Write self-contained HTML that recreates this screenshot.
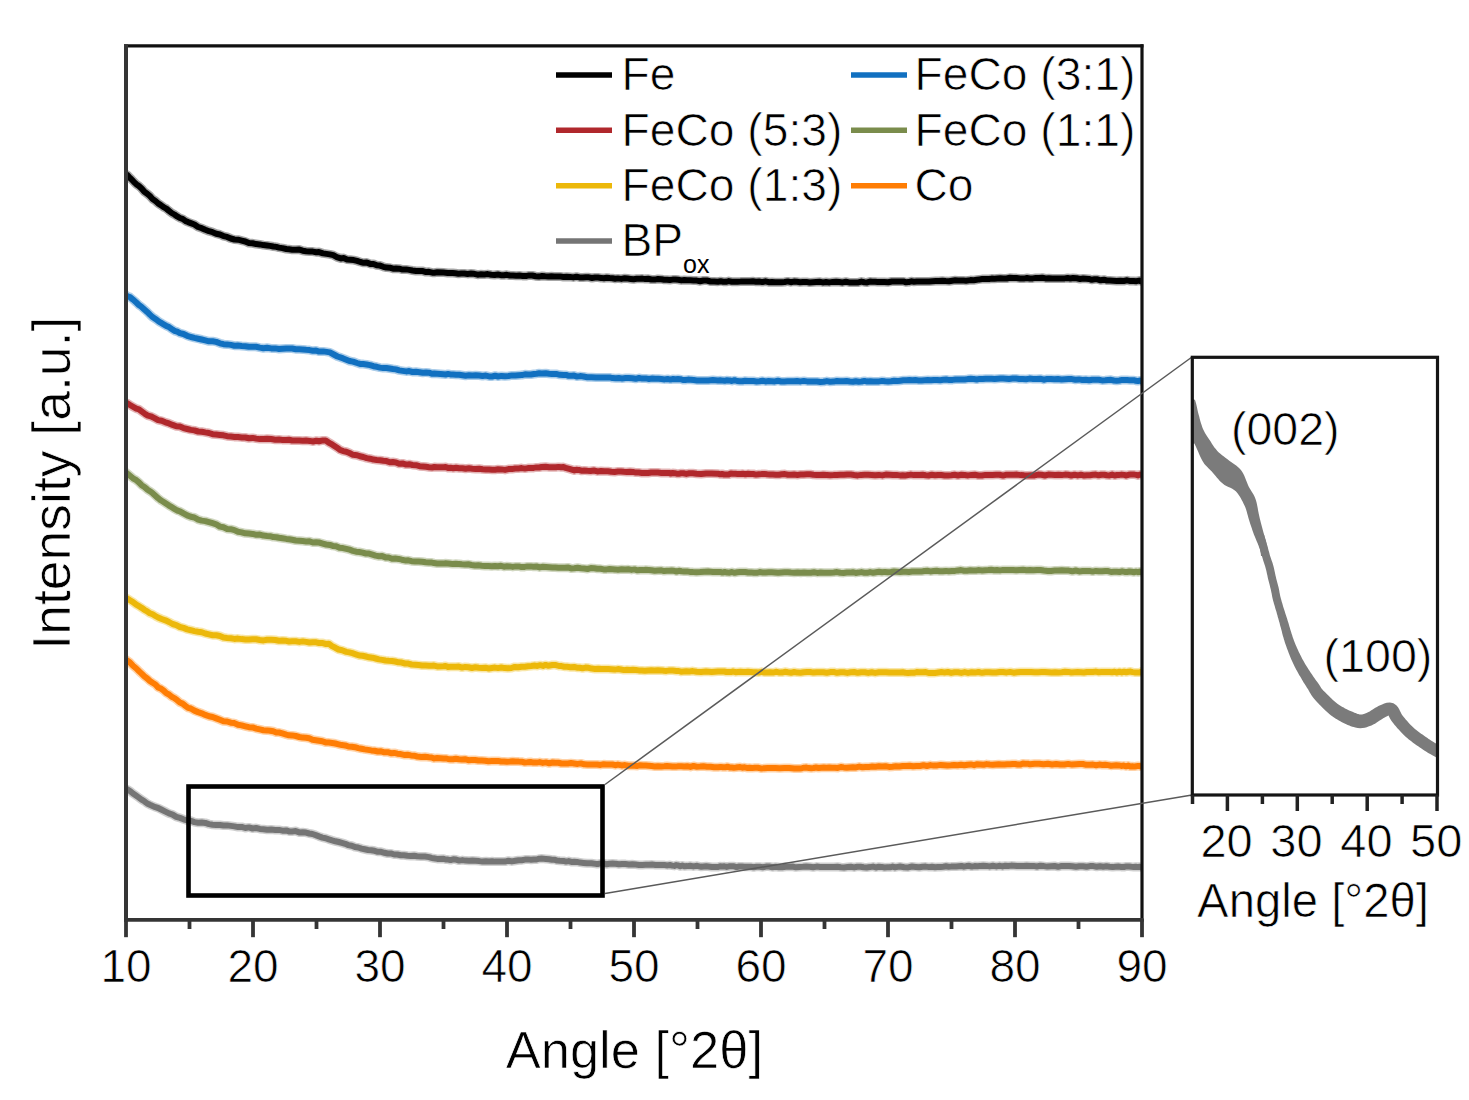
<!DOCTYPE html>
<html><head><meta charset="utf-8"><style>
html,body{margin:0;padding:0;background:#fff;}
body{width:1469px;height:1100px;overflow:hidden;font-family:"Liberation Sans",sans-serif;}
svg{display:block;}
</style></head><body>
<svg width="1469" height="1100" viewBox="0 0 1469 1100">
<rect width="1469" height="1100" fill="#fff"/>
<defs><clipPath id="pc"><rect x="128" y="46" width="1013" height="872"/></clipPath><clipPath id="ic"><rect x="1193" y="358" width="243" height="434"/></clipPath></defs>
<g clip-path="url(#pc)" fill="none" stroke-linejoin="round" stroke-linecap="butt">
<path d="M125.0,173.8 L127.5,175.2 L129.2,177.2 L131.4,179.2 L133.8,181.8 L136.3,184.2 L138.9,186.0 L141.6,188.5 L144.4,191.8 L147.2,193.7 L149.9,196.0 L152.6,199.1 L155.4,200.9 L158.1,203.4 L160.8,205.1 L163.6,207.2 L166.3,208.6 L169.0,210.9 L171.7,213.0 L174.4,214.5 L177.2,216.4 L179.9,218.0 L182.6,218.9 L185.4,220.9 L188.1,222.1 L190.8,223.1 L194.4,224.5 L198.1,227.0 L201.7,228.2 L205.3,229.8 L209.0,231.2 L212.6,232.2 L216.2,233.7 L219.9,234.5 L223.5,236.1 L227.1,236.9 L230.8,238.5 L234.4,239.5 L238.0,239.7 L241.7,240.6 L245.3,241.5 L248.9,243.1 L252.6,243.3 L256.2,244.1 L259.8,244.4 L263.4,245.1 L267.1,245.5 L270.1,245.9 L273.3,246.5 L276.3,246.9 L279.0,247.6 L282.4,248.1 L286.3,249.0 L289.0,249.3 L292.2,249.7 L295.7,249.7 L299.3,249.6 L302.7,250.7 L306.1,251.2 L309.5,251.5 L312.9,251.6 L316.1,252.2 L319.0,252.1 L323.0,253.4 L326.5,253.9 L329.9,254.4 L333.3,255.2 L336.8,257.1 L340.8,258.4 L343.7,258.1 L346.9,259.5 L350.3,259.7 L353.7,260.1 L357.1,260.9 L360.4,262.0 L363.7,262.8 L366.9,262.6 L370.2,263.9 L373.5,263.9 L376.8,265.3 L380.0,265.6 L383.3,266.8 L386.5,267.6 L389.8,267.7 L393.0,268.7 L396.0,268.5 L399.2,268.7 L402.5,269.6 L406.2,269.4 L409.2,269.9 L412.5,270.5 L416.0,271.0 L419.5,270.9 L422.9,271.1 L426.1,272.1 L429.0,271.8 L432.3,272.7 L434.3,272.7 L437.3,272.2 L443.6,272.6 L445.6,272.7 L447.8,272.9 L450.2,273.0 L452.8,273.1 L455.5,273.3 L458.4,273.7 L461.4,273.4 L464.4,273.5 L467.6,273.9 L470.9,273.6 L474.2,273.8 L477.6,274.7 L481.0,274.3 L484.4,274.5 L487.8,274.1 L491.3,274.7 L494.6,275.0 L498.0,274.5 L500.9,275.2 L503.8,275.3 L506.9,274.8 L509.9,275.5 L513.0,275.4 L516.2,275.7 L519.4,275.5 L522.6,275.9 L525.8,276.1 L529.1,275.4 L532.3,275.5 L535.6,276.2 L538.8,276.6 L542.0,276.0 L545.2,276.3 L548.3,276.5 L551.5,276.3 L554.5,276.4 L557.6,276.4 L560.5,276.6 L563.4,276.9 L566.7,276.7 L570.0,276.9 L573.2,277.4 L576.5,276.7 L579.6,277.4 L582.8,277.6 L585.9,277.3 L589.0,277.3 L592.0,278.0 L595.0,277.5 L598.0,277.6 L601.0,277.9 L603.9,278.3 L606.7,277.8 L609.6,278.1 L612.4,278.2 L615.2,278.8 L617.9,278.4 L621.3,278.9 L624.6,278.3 L627.7,278.6 L630.7,278.9 L633.7,279.2 L636.6,278.8 L639.5,278.7 L642.4,278.6 L645.3,279.1 L648.3,278.8 L651.4,279.5 L654.6,279.6 L657.9,279.0 L661.4,279.2 L664.2,279.8 L667.0,279.7 L669.8,280.0 L672.6,279.6 L675.5,279.5 L678.4,279.8 L681.3,280.4 L684.3,280.0 L687.3,280.2 L690.4,280.3 L693.5,280.5 L696.8,280.6 L700.1,281.2 L703.5,280.5 L706.9,280.5 L710.5,281.5 L714.2,281.5 L718.0,281.7 L720.6,281.2 L723.3,281.7 L726.0,281.8 L728.8,281.1 L731.7,281.7 L734.6,281.8 L737.5,281.7 L740.5,281.6 L743.5,281.4 L746.6,281.4 L749.7,281.4 L752.8,281.2 L756.0,281.8 L759.1,281.5 L762.3,282.1 L765.5,281.3 L768.7,282.2 L771.9,282.0 L775.1,282.3 L778.3,282.3 L781.4,282.3 L784.6,282.0 L787.7,281.4 L790.8,282.2 L793.9,281.6 L797.0,281.8 L800.0,282.2 L803.1,282.0 L806.3,281.9 L809.6,282.5 L812.8,282.2 L816.1,281.9 L819.4,281.8 L822.7,282.4 L826.1,282.0 L829.4,282.4 L832.7,281.9 L836.1,281.8 L839.4,282.1 L842.6,282.4 L845.9,281.7 L849.1,282.4 L852.2,282.5 L855.3,282.4 L858.4,282.4 L861.4,281.6 L864.3,282.2 L867.2,282.4 L869.9,281.6 L872.6,281.8 L875.2,281.8 L877.6,282.0 L880.0,281.9 L884.4,282.0 L888.3,282.2 L891.8,281.5 L895.1,281.5 L898.0,281.5 L900.8,281.5 L903.4,281.4 L906.0,282.3 L908.6,282.1 L911.2,281.3 L913.9,281.7 L916.8,281.5 L920.0,281.4 L922.9,281.4 L926.0,281.6 L929.2,281.5 L932.4,281.2 L935.7,281.0 L939.1,281.0 L942.4,280.7 L945.7,281.1 L949.0,281.2 L952.1,280.7 L955.2,280.3 L958.2,280.4 L961.0,280.5 L963.6,280.6 L966.0,280.7 L970.4,280.1 L973.8,280.2 L976.7,279.8 L979.3,279.4 L982.0,279.1 L985.1,279.0 L989.0,279.0 L991.6,278.6 L994.4,278.8 L997.3,278.5 L1000.3,278.2 L1003.4,278.4 L1006.6,278.5 L1009.8,277.8 L1013.2,278.1 L1016.6,278.1 L1020.0,278.5 L1023.5,278.6 L1027.0,278.0 L1029.9,278.5 L1032.8,278.4 L1035.9,277.9 L1039.1,278.1 L1042.3,277.7 L1045.5,278.4 L1048.8,278.3 L1052.1,278.6 L1055.3,278.5 L1058.5,278.4 L1061.6,278.5 L1064.6,278.4 L1067.6,278.0 L1070.4,278.5 L1073.0,278.0 L1076.7,278.3 L1080.0,279.0 L1083.2,278.5 L1086.1,278.7 L1088.9,278.9 L1091.7,279.8 L1094.6,279.3 L1097.5,279.3 L1100.6,280.3 L1104.0,279.7 L1106.8,280.5 L1109.9,280.5 L1113.3,280.7 L1116.7,280.9 L1120.2,280.7 L1123.7,281.0 L1127.2,280.3 L1130.5,281.1 L1133.6,280.9 L1136.5,281.2 L1139.1,280.6 L1141.3,281.3 L1143.0,281.1" stroke="#000000" stroke-width="9" stroke-opacity="0.35"/>
<path d="M125.0,173.8 L127.5,175.2 L129.2,177.2 L131.4,179.2 L133.8,181.8 L136.3,184.2 L138.9,186.0 L141.6,188.5 L144.4,191.8 L147.2,193.7 L149.9,196.0 L152.6,199.1 L155.4,200.9 L158.1,203.4 L160.8,205.1 L163.6,207.2 L166.3,208.6 L169.0,210.9 L171.7,213.0 L174.4,214.5 L177.2,216.4 L179.9,218.0 L182.6,218.9 L185.4,220.9 L188.1,222.1 L190.8,223.1 L194.4,224.5 L198.1,227.0 L201.7,228.2 L205.3,229.8 L209.0,231.2 L212.6,232.2 L216.2,233.7 L219.9,234.5 L223.5,236.1 L227.1,236.9 L230.8,238.5 L234.4,239.5 L238.0,239.7 L241.7,240.6 L245.3,241.5 L248.9,243.1 L252.6,243.3 L256.2,244.1 L259.8,244.4 L263.4,245.1 L267.1,245.5 L270.1,245.9 L273.3,246.5 L276.3,246.9 L279.0,247.6 L282.4,248.1 L286.3,249.0 L289.0,249.3 L292.2,249.7 L295.7,249.7 L299.3,249.6 L302.7,250.7 L306.1,251.2 L309.5,251.5 L312.9,251.6 L316.1,252.2 L319.0,252.1 L323.0,253.4 L326.5,253.9 L329.9,254.4 L333.3,255.2 L336.8,257.1 L340.8,258.4 L343.7,258.1 L346.9,259.5 L350.3,259.7 L353.7,260.1 L357.1,260.9 L360.4,262.0 L363.7,262.8 L366.9,262.6 L370.2,263.9 L373.5,263.9 L376.8,265.3 L380.0,265.6 L383.3,266.8 L386.5,267.6 L389.8,267.7 L393.0,268.7 L396.0,268.5 L399.2,268.7 L402.5,269.6 L406.2,269.4 L409.2,269.9 L412.5,270.5 L416.0,271.0 L419.5,270.9 L422.9,271.1 L426.1,272.1 L429.0,271.8 L432.3,272.7 L434.3,272.7 L437.3,272.2 L443.6,272.6 L445.6,272.7 L447.8,272.9 L450.2,273.0 L452.8,273.1 L455.5,273.3 L458.4,273.7 L461.4,273.4 L464.4,273.5 L467.6,273.9 L470.9,273.6 L474.2,273.8 L477.6,274.7 L481.0,274.3 L484.4,274.5 L487.8,274.1 L491.3,274.7 L494.6,275.0 L498.0,274.5 L500.9,275.2 L503.8,275.3 L506.9,274.8 L509.9,275.5 L513.0,275.4 L516.2,275.7 L519.4,275.5 L522.6,275.9 L525.8,276.1 L529.1,275.4 L532.3,275.5 L535.6,276.2 L538.8,276.6 L542.0,276.0 L545.2,276.3 L548.3,276.5 L551.5,276.3 L554.5,276.4 L557.6,276.4 L560.5,276.6 L563.4,276.9 L566.7,276.7 L570.0,276.9 L573.2,277.4 L576.5,276.7 L579.6,277.4 L582.8,277.6 L585.9,277.3 L589.0,277.3 L592.0,278.0 L595.0,277.5 L598.0,277.6 L601.0,277.9 L603.9,278.3 L606.7,277.8 L609.6,278.1 L612.4,278.2 L615.2,278.8 L617.9,278.4 L621.3,278.9 L624.6,278.3 L627.7,278.6 L630.7,278.9 L633.7,279.2 L636.6,278.8 L639.5,278.7 L642.4,278.6 L645.3,279.1 L648.3,278.8 L651.4,279.5 L654.6,279.6 L657.9,279.0 L661.4,279.2 L664.2,279.8 L667.0,279.7 L669.8,280.0 L672.6,279.6 L675.5,279.5 L678.4,279.8 L681.3,280.4 L684.3,280.0 L687.3,280.2 L690.4,280.3 L693.5,280.5 L696.8,280.6 L700.1,281.2 L703.5,280.5 L706.9,280.5 L710.5,281.5 L714.2,281.5 L718.0,281.7 L720.6,281.2 L723.3,281.7 L726.0,281.8 L728.8,281.1 L731.7,281.7 L734.6,281.8 L737.5,281.7 L740.5,281.6 L743.5,281.4 L746.6,281.4 L749.7,281.4 L752.8,281.2 L756.0,281.8 L759.1,281.5 L762.3,282.1 L765.5,281.3 L768.7,282.2 L771.9,282.0 L775.1,282.3 L778.3,282.3 L781.4,282.3 L784.6,282.0 L787.7,281.4 L790.8,282.2 L793.9,281.6 L797.0,281.8 L800.0,282.2 L803.1,282.0 L806.3,281.9 L809.6,282.5 L812.8,282.2 L816.1,281.9 L819.4,281.8 L822.7,282.4 L826.1,282.0 L829.4,282.4 L832.7,281.9 L836.1,281.8 L839.4,282.1 L842.6,282.4 L845.9,281.7 L849.1,282.4 L852.2,282.5 L855.3,282.4 L858.4,282.4 L861.4,281.6 L864.3,282.2 L867.2,282.4 L869.9,281.6 L872.6,281.8 L875.2,281.8 L877.6,282.0 L880.0,281.9 L884.4,282.0 L888.3,282.2 L891.8,281.5 L895.1,281.5 L898.0,281.5 L900.8,281.5 L903.4,281.4 L906.0,282.3 L908.6,282.1 L911.2,281.3 L913.9,281.7 L916.8,281.5 L920.0,281.4 L922.9,281.4 L926.0,281.6 L929.2,281.5 L932.4,281.2 L935.7,281.0 L939.1,281.0 L942.4,280.7 L945.7,281.1 L949.0,281.2 L952.1,280.7 L955.2,280.3 L958.2,280.4 L961.0,280.5 L963.6,280.6 L966.0,280.7 L970.4,280.1 L973.8,280.2 L976.7,279.8 L979.3,279.4 L982.0,279.1 L985.1,279.0 L989.0,279.0 L991.6,278.6 L994.4,278.8 L997.3,278.5 L1000.3,278.2 L1003.4,278.4 L1006.6,278.5 L1009.8,277.8 L1013.2,278.1 L1016.6,278.1 L1020.0,278.5 L1023.5,278.6 L1027.0,278.0 L1029.9,278.5 L1032.8,278.4 L1035.9,277.9 L1039.1,278.1 L1042.3,277.7 L1045.5,278.4 L1048.8,278.3 L1052.1,278.6 L1055.3,278.5 L1058.5,278.4 L1061.6,278.5 L1064.6,278.4 L1067.6,278.0 L1070.4,278.5 L1073.0,278.0 L1076.7,278.3 L1080.0,279.0 L1083.2,278.5 L1086.1,278.7 L1088.9,278.9 L1091.7,279.8 L1094.6,279.3 L1097.5,279.3 L1100.6,280.3 L1104.0,279.7 L1106.8,280.5 L1109.9,280.5 L1113.3,280.7 L1116.7,280.9 L1120.2,280.7 L1123.7,281.0 L1127.2,280.3 L1130.5,281.1 L1133.6,280.9 L1136.5,281.2 L1139.1,280.6 L1141.3,281.3 L1143.0,281.1" stroke="#000000" stroke-width="6"/>
<path d="M125.0,294.4 L127.6,296.3 L130.0,297.1 L133.0,299.6 L136.3,302.5 L138.9,305.0 L141.6,306.9 L144.4,309.4 L147.2,311.9 L149.9,314.6 L152.6,317.1 L155.4,318.9 L158.1,320.9 L160.8,322.7 L163.6,324.3 L166.3,325.9 L169.0,327.1 L171.7,329.0 L174.4,330.8 L177.2,331.6 L179.9,333.1 L183.5,334.0 L187.2,335.8 L190.8,337.0 L194.4,337.9 L198.1,338.7 L201.7,339.5 L205.3,340.4 L209.0,341.3 L212.6,341.2 L216.2,341.9 L219.9,343.3 L223.5,344.2 L227.1,344.4 L230.8,344.9 L234.4,345.7 L238.0,345.6 L241.7,346.0 L245.3,346.2 L248.9,346.8 L252.6,346.7 L256.2,346.8 L259.8,347.6 L263.4,348.2 L267.1,347.8 L271.2,348.4 L275.3,348.4 L279.0,349.0 L282.4,348.7 L286.3,348.4 L289.0,348.5 L292.2,348.5 L295.7,349.2 L299.3,349.3 L302.7,349.4 L306.1,349.8 L309.5,350.1 L312.9,350.8 L316.1,350.5 L319.0,351.6 L323.2,351.4 L326.7,351.9 L329.9,352.4 L333.8,354.5 L337.5,356.5 L340.3,357.4 L343.2,358.4 L346.3,359.7 L349.5,361.0 L353.0,361.6 L357.1,363.0 L360.0,363.9 L363.3,364.1 L366.7,364.5 L370.1,365.1 L373.5,366.2 L376.8,366.8 L380.0,367.6 L383.3,368.1 L386.5,368.0 L389.8,368.5 L393.0,369.0 L396.0,369.4 L399.2,370.4 L402.5,370.9 L406.2,371.4 L409.2,371.1 L412.5,372.0 L416.0,371.8 L419.5,372.2 L422.9,372.8 L426.1,372.4 L429.0,372.7 L432.3,373.8 L434.3,373.5 L437.3,373.7 L443.6,374.3 L445.7,374.5 L448.0,373.9 L450.5,374.4 L453.2,374.6 L456.1,374.8 L459.2,374.7 L462.4,375.2 L465.6,375.7 L469.0,375.3 L472.4,375.6 L475.8,375.3 L479.2,375.5 L482.6,376.0 L485.9,375.6 L489.1,376.4 L492.2,376.5 L495.2,375.7 L498.0,376.5 L501.5,375.9 L505.0,376.2 L508.5,376.0 L511.9,375.4 L515.3,375.5 L518.6,375.2 L521.8,375.1 L525.0,374.3 L528.1,374.6 L531.0,374.5 L533.9,374.0 L536.6,373.7 L539.2,373.2 L541.6,373.5 L545.8,373.3 L549.1,373.8 L551.9,374.0 L554.4,374.1 L557.0,374.1 L559.9,374.8 L563.4,375.1 L566.1,374.9 L568.7,375.8 L571.4,375.8 L574.1,375.6 L577.0,376.6 L580.1,376.1 L583.5,376.5 L587.2,377.2 L591.4,377.3 L596.0,377.5 L598.4,377.6 L601.0,377.5 L603.7,377.5 L606.5,377.4 L609.5,377.4 L612.6,378.1 L615.7,378.3 L618.9,378.1 L622.2,378.4 L625.5,378.1 L628.9,378.1 L632.3,378.2 L635.7,378.8 L639.0,378.0 L642.4,378.6 L645.7,378.4 L649.0,379.0 L652.2,378.6 L655.4,378.7 L658.4,378.8 L661.4,379.0 L664.6,379.4 L667.6,379.0 L670.4,379.6 L673.1,379.0 L675.6,379.2 L678.0,379.1 L680.4,379.2 L682.9,380.0 L685.3,380.0 L688.0,379.6 L690.7,379.7 L693.7,380.0 L696.8,380.4 L700.3,380.5 L704.1,380.5 L708.3,380.5 L712.9,380.1 L718.0,380.4 L720.2,380.2 L722.4,380.6 L724.7,380.7 L727.0,380.3 L729.5,380.4 L731.9,381.0 L734.5,380.2 L737.1,381.0 L739.7,381.2 L742.4,381.3 L745.1,380.7 L747.9,380.9 L750.7,381.0 L753.6,381.1 L756.5,381.4 L759.5,381.2 L762.5,380.8 L765.5,381.4 L768.5,381.1 L771.6,381.2 L774.8,381.4 L777.9,380.7 L781.1,381.5 L784.3,381.4 L787.5,381.3 L790.7,381.3 L793.9,381.3 L797.2,381.0 L800.5,381.4 L803.8,380.9 L807.1,381.4 L810.4,381.5 L813.7,381.4 L817.0,381.5 L820.3,381.9 L823.6,381.8 L826.9,381.1 L830.2,381.7 L833.5,381.6 L836.8,381.0 L840.1,381.3 L843.3,381.2 L846.6,381.0 L849.8,381.5 L853.0,381.8 L855.8,381.2 L858.7,381.7 L861.6,381.5 L864.4,380.9 L867.4,381.6 L870.3,381.3 L873.2,381.6 L876.2,381.4 L879.1,381.4 L882.1,380.9 L885.1,381.3 L888.1,381.4 L891.1,381.3 L894.1,380.8 L897.2,381.1 L900.2,380.7 L903.3,380.3 L906.3,380.2 L909.4,380.1 L912.4,380.2 L915.5,380.1 L918.6,380.4 L921.7,380.5 L924.8,380.3 L927.8,380.1 L930.9,380.3 L934.0,379.9 L937.1,379.9 L940.2,380.2 L943.2,379.8 L946.3,379.5 L949.4,380.1 L952.5,379.9 L955.5,379.5 L958.6,379.4 L961.6,379.5 L964.7,379.5 L967.7,379.1 L970.7,378.8 L973.7,379.0 L976.7,379.5 L979.7,378.9 L982.7,379.1 L985.7,378.8 L988.6,378.8 L991.6,378.8 L994.5,379.0 L997.4,378.7 L1000.3,378.5 L1003.1,378.6 L1006.0,378.7 L1009.2,379.0 L1012.5,378.6 L1015.9,378.5 L1019.3,379.0 L1022.7,378.9 L1026.1,379.2 L1029.6,378.6 L1033.1,379.0 L1036.6,379.0 L1040.2,378.7 L1043.7,379.7 L1047.3,378.9 L1050.8,378.9 L1054.4,379.3 L1057.9,379.0 L1061.5,379.5 L1065.0,379.3 L1068.5,379.1 L1072.0,379.1 L1075.5,379.8 L1079.0,379.4 L1082.4,380.0 L1085.7,379.7 L1089.1,380.3 L1092.4,379.7 L1095.6,379.7 L1098.8,379.8 L1102.0,380.4 L1105.1,380.3 L1108.1,380.0 L1111.0,379.8 L1113.9,380.5 L1116.7,380.8 L1119.4,380.5 L1122.1,379.9 L1124.6,380.0 L1127.1,380.1 L1129.5,380.2 L1131.7,380.2 L1133.9,380.2 L1135.9,380.8 L1137.9,381.1 L1139.7,380.5 L1141.4,381.3 L1143.0,380.8" stroke="#1170c0" stroke-width="9" stroke-opacity="0.35"/>
<path d="M125.0,294.4 L127.6,296.3 L130.0,297.1 L133.0,299.6 L136.3,302.5 L138.9,305.0 L141.6,306.9 L144.4,309.4 L147.2,311.9 L149.9,314.6 L152.6,317.1 L155.4,318.9 L158.1,320.9 L160.8,322.7 L163.6,324.3 L166.3,325.9 L169.0,327.1 L171.7,329.0 L174.4,330.8 L177.2,331.6 L179.9,333.1 L183.5,334.0 L187.2,335.8 L190.8,337.0 L194.4,337.9 L198.1,338.7 L201.7,339.5 L205.3,340.4 L209.0,341.3 L212.6,341.2 L216.2,341.9 L219.9,343.3 L223.5,344.2 L227.1,344.4 L230.8,344.9 L234.4,345.7 L238.0,345.6 L241.7,346.0 L245.3,346.2 L248.9,346.8 L252.6,346.7 L256.2,346.8 L259.8,347.6 L263.4,348.2 L267.1,347.8 L271.2,348.4 L275.3,348.4 L279.0,349.0 L282.4,348.7 L286.3,348.4 L289.0,348.5 L292.2,348.5 L295.7,349.2 L299.3,349.3 L302.7,349.4 L306.1,349.8 L309.5,350.1 L312.9,350.8 L316.1,350.5 L319.0,351.6 L323.2,351.4 L326.7,351.9 L329.9,352.4 L333.8,354.5 L337.5,356.5 L340.3,357.4 L343.2,358.4 L346.3,359.7 L349.5,361.0 L353.0,361.6 L357.1,363.0 L360.0,363.9 L363.3,364.1 L366.7,364.5 L370.1,365.1 L373.5,366.2 L376.8,366.8 L380.0,367.6 L383.3,368.1 L386.5,368.0 L389.8,368.5 L393.0,369.0 L396.0,369.4 L399.2,370.4 L402.5,370.9 L406.2,371.4 L409.2,371.1 L412.5,372.0 L416.0,371.8 L419.5,372.2 L422.9,372.8 L426.1,372.4 L429.0,372.7 L432.3,373.8 L434.3,373.5 L437.3,373.7 L443.6,374.3 L445.7,374.5 L448.0,373.9 L450.5,374.4 L453.2,374.6 L456.1,374.8 L459.2,374.7 L462.4,375.2 L465.6,375.7 L469.0,375.3 L472.4,375.6 L475.8,375.3 L479.2,375.5 L482.6,376.0 L485.9,375.6 L489.1,376.4 L492.2,376.5 L495.2,375.7 L498.0,376.5 L501.5,375.9 L505.0,376.2 L508.5,376.0 L511.9,375.4 L515.3,375.5 L518.6,375.2 L521.8,375.1 L525.0,374.3 L528.1,374.6 L531.0,374.5 L533.9,374.0 L536.6,373.7 L539.2,373.2 L541.6,373.5 L545.8,373.3 L549.1,373.8 L551.9,374.0 L554.4,374.1 L557.0,374.1 L559.9,374.8 L563.4,375.1 L566.1,374.9 L568.7,375.8 L571.4,375.8 L574.1,375.6 L577.0,376.6 L580.1,376.1 L583.5,376.5 L587.2,377.2 L591.4,377.3 L596.0,377.5 L598.4,377.6 L601.0,377.5 L603.7,377.5 L606.5,377.4 L609.5,377.4 L612.6,378.1 L615.7,378.3 L618.9,378.1 L622.2,378.4 L625.5,378.1 L628.9,378.1 L632.3,378.2 L635.7,378.8 L639.0,378.0 L642.4,378.6 L645.7,378.4 L649.0,379.0 L652.2,378.6 L655.4,378.7 L658.4,378.8 L661.4,379.0 L664.6,379.4 L667.6,379.0 L670.4,379.6 L673.1,379.0 L675.6,379.2 L678.0,379.1 L680.4,379.2 L682.9,380.0 L685.3,380.0 L688.0,379.6 L690.7,379.7 L693.7,380.0 L696.8,380.4 L700.3,380.5 L704.1,380.5 L708.3,380.5 L712.9,380.1 L718.0,380.4 L720.2,380.2 L722.4,380.6 L724.7,380.7 L727.0,380.3 L729.5,380.4 L731.9,381.0 L734.5,380.2 L737.1,381.0 L739.7,381.2 L742.4,381.3 L745.1,380.7 L747.9,380.9 L750.7,381.0 L753.6,381.1 L756.5,381.4 L759.5,381.2 L762.5,380.8 L765.5,381.4 L768.5,381.1 L771.6,381.2 L774.8,381.4 L777.9,380.7 L781.1,381.5 L784.3,381.4 L787.5,381.3 L790.7,381.3 L793.9,381.3 L797.2,381.0 L800.5,381.4 L803.8,380.9 L807.1,381.4 L810.4,381.5 L813.7,381.4 L817.0,381.5 L820.3,381.9 L823.6,381.8 L826.9,381.1 L830.2,381.7 L833.5,381.6 L836.8,381.0 L840.1,381.3 L843.3,381.2 L846.6,381.0 L849.8,381.5 L853.0,381.8 L855.8,381.2 L858.7,381.7 L861.6,381.5 L864.4,380.9 L867.4,381.6 L870.3,381.3 L873.2,381.6 L876.2,381.4 L879.1,381.4 L882.1,380.9 L885.1,381.3 L888.1,381.4 L891.1,381.3 L894.1,380.8 L897.2,381.1 L900.2,380.7 L903.3,380.3 L906.3,380.2 L909.4,380.1 L912.4,380.2 L915.5,380.1 L918.6,380.4 L921.7,380.5 L924.8,380.3 L927.8,380.1 L930.9,380.3 L934.0,379.9 L937.1,379.9 L940.2,380.2 L943.2,379.8 L946.3,379.5 L949.4,380.1 L952.5,379.9 L955.5,379.5 L958.6,379.4 L961.6,379.5 L964.7,379.5 L967.7,379.1 L970.7,378.8 L973.7,379.0 L976.7,379.5 L979.7,378.9 L982.7,379.1 L985.7,378.8 L988.6,378.8 L991.6,378.8 L994.5,379.0 L997.4,378.7 L1000.3,378.5 L1003.1,378.6 L1006.0,378.7 L1009.2,379.0 L1012.5,378.6 L1015.9,378.5 L1019.3,379.0 L1022.7,378.9 L1026.1,379.2 L1029.6,378.6 L1033.1,379.0 L1036.6,379.0 L1040.2,378.7 L1043.7,379.7 L1047.3,378.9 L1050.8,378.9 L1054.4,379.3 L1057.9,379.0 L1061.5,379.5 L1065.0,379.3 L1068.5,379.1 L1072.0,379.1 L1075.5,379.8 L1079.0,379.4 L1082.4,380.0 L1085.7,379.7 L1089.1,380.3 L1092.4,379.7 L1095.6,379.7 L1098.8,379.8 L1102.0,380.4 L1105.1,380.3 L1108.1,380.0 L1111.0,379.8 L1113.9,380.5 L1116.7,380.8 L1119.4,380.5 L1122.1,379.9 L1124.6,380.0 L1127.1,380.1 L1129.5,380.2 L1131.7,380.2 L1133.9,380.2 L1135.9,380.8 L1137.9,381.1 L1139.7,380.5 L1141.4,381.3 L1143.0,380.8" stroke="#1170c0" stroke-width="6"/>
<path d="M125.0,402.2 L127.6,403.4 L130.0,405.0 L133.0,406.8 L136.3,408.7 L138.9,409.4 L141.6,411.4 L144.4,413.4 L147.2,415.3 L150.8,416.3 L154.5,418.1 L158.1,420.1 L161.7,420.8 L165.4,422.3 L169.0,423.4 L172.6,424.9 L176.3,426.3 L179.9,426.6 L183.5,428.1 L187.2,429.0 L190.8,429.9 L194.4,430.4 L198.1,431.5 L201.7,431.7 L205.3,432.4 L209.0,433.0 L212.6,434.2 L216.2,434.5 L219.9,434.9 L223.5,435.3 L227.1,436.2 L230.8,436.5 L234.4,436.9 L238.0,437.0 L241.7,437.4 L245.3,437.5 L248.9,438.3 L252.6,437.9 L256.2,438.6 L259.8,439.1 L263.4,439.1 L267.1,438.7 L271.2,439.0 L275.3,439.7 L279.0,439.5 L282.4,439.9 L286.3,440.1 L289.0,439.8 L292.2,440.5 L295.7,440.6 L299.3,440.5 L302.7,440.7 L306.1,440.5 L309.7,440.9 L313.2,441.5 L316.4,440.7 L319.0,441.2 L323.0,440.4 L325.6,440.4 L328.3,442.3 L331.0,443.8 L334.0,445.8 L337.5,448.1 L340.2,449.9 L343.1,451.1 L346.3,451.7 L349.5,453.0 L353.0,454.8 L357.1,455.2 L360.0,456.3 L363.3,457.0 L366.7,458.1 L370.1,458.7 L373.5,459.6 L376.8,460.0 L380.0,460.2 L383.3,460.7 L386.5,461.1 L389.8,462.3 L393.0,462.1 L396.0,462.4 L399.2,463.8 L402.5,463.4 L406.2,464.6 L409.2,464.2 L412.5,465.0 L416.0,465.2 L419.5,466.2 L422.9,466.4 L426.1,466.8 L429.0,467.2 L432.3,467.5 L434.3,467.0 L437.3,467.3 L443.6,467.3 L445.7,467.1 L448.0,467.9 L450.5,467.8 L453.2,468.2 L456.1,467.7 L459.2,468.2 L462.4,468.3 L465.6,468.8 L469.0,468.3 L472.4,468.7 L475.8,469.0 L479.2,468.7 L482.6,469.3 L485.9,469.6 L489.1,469.4 L492.2,469.7 L495.2,469.7 L498.0,469.3 L501.5,469.4 L505.0,469.9 L508.4,469.1 L511.8,469.1 L515.2,468.5 L518.5,468.4 L521.7,468.1 L524.9,468.6 L527.9,468.1 L530.9,468.0 L533.7,467.9 L536.5,467.4 L539.1,467.5 L541.6,467.0 L545.6,466.8 L549.3,467.3 L552.7,467.2 L555.8,467.3 L558.6,466.9 L561.1,467.3 L563.5,467.1 L565.6,467.9 L568.3,468.6 L569.4,468.9 L574.3,470.4 L576.3,469.8 L578.7,469.9 L581.3,470.7 L584.2,470.4 L587.3,470.8 L590.5,471.0 L593.9,470.5 L597.4,471.4 L600.9,471.0 L604.4,471.3 L607.9,471.3 L611.4,471.8 L614.7,471.9 L617.9,471.6 L621.0,471.5 L624.0,471.8 L627.0,472.0 L630.0,471.7 L632.9,471.9 L635.9,472.6 L638.8,472.6 L641.8,472.9 L644.9,473.0 L648.0,473.0 L651.2,472.5 L654.5,472.4 L657.9,472.6 L661.4,472.9 L664.0,473.0 L666.4,473.1 L668.6,472.9 L670.7,473.5 L672.7,473.0 L674.7,473.2 L676.7,473.7 L678.8,473.7 L681.0,473.3 L683.5,473.3 L686.3,473.9 L689.4,473.2 L692.8,473.3 L696.7,473.8 L701.2,473.9 L706.1,473.5 L711.7,473.5 L718.0,473.7 L720.0,474.3 L722.1,474.0 L724.2,474.5 L726.4,474.4 L728.6,474.6 L730.8,473.6 L733.2,473.8 L735.5,473.7 L737.9,474.1 L740.4,474.0 L742.9,473.8 L745.4,474.3 L748.0,473.8 L750.6,474.1 L753.3,474.0 L756.0,474.6 L758.7,474.2 L761.5,474.1 L764.3,473.9 L767.1,474.3 L770.0,474.5 L772.9,474.6 L775.9,474.8 L778.8,474.8 L781.9,474.2 L784.9,474.1 L788.0,474.8 L791.1,474.8 L794.2,474.6 L797.4,474.9 L800.5,474.6 L803.7,474.4 L807.0,474.3 L810.2,474.2 L813.5,474.8 L816.8,475.1 L820.1,475.1 L823.4,474.7 L826.8,474.9 L830.2,475.2 L833.6,475.1 L837.0,474.9 L840.4,474.7 L843.8,474.8 L847.3,474.5 L850.7,474.5 L854.2,475.0 L857.7,475.4 L861.2,474.9 L864.7,474.8 L868.2,474.8 L871.7,474.9 L875.2,475.2 L878.8,474.9 L882.3,475.4 L885.8,474.6 L889.4,474.8 L892.9,475.0 L896.5,474.9 L900.0,475.4 L902.7,475.3 L905.4,475.4 L908.1,475.1 L910.9,474.6 L913.8,475.1 L916.7,475.1 L919.6,475.0 L922.6,474.8 L925.7,475.3 L928.7,475.5 L931.8,474.7 L935.0,475.2 L938.2,474.9 L941.4,475.1 L944.6,475.5 L947.9,475.5 L951.2,475.2 L954.6,474.8 L957.9,475.5 L961.3,474.8 L964.7,475.0 L968.1,475.4 L971.6,474.9 L975.0,474.8 L978.5,475.5 L982.0,475.5 L985.5,474.9 L989.0,475.0 L992.5,474.9 L996.0,474.7 L999.5,474.8 L1003.1,475.6 L1006.6,474.7 L1010.1,474.8 L1013.6,474.8 L1017.1,474.6 L1020.7,475.1 L1024.2,475.3 L1027.7,475.4 L1031.1,475.2 L1034.6,475.4 L1038.1,474.6 L1041.5,474.8 L1044.9,475.5 L1048.3,474.6 L1051.7,474.8 L1055.1,475.0 L1058.4,474.8 L1061.7,475.1 L1065.0,474.6 L1068.2,474.8 L1071.4,475.5 L1074.6,474.7 L1077.7,475.4 L1080.8,474.7 L1083.9,475.5 L1086.9,475.2 L1089.9,475.2 L1092.9,474.7 L1095.8,474.6 L1098.6,475.3 L1101.4,474.7 L1104.2,474.7 L1106.9,475.3 L1109.5,475.4 L1112.1,474.6 L1114.6,475.5 L1117.1,475.0 L1119.5,474.9 L1121.8,474.6 L1124.1,474.9 L1126.3,475.5 L1128.5,474.8 L1130.6,474.6 L1132.6,474.6 L1134.5,474.6 L1136.4,474.9 L1138.1,475.4 L1139.8,474.6 L1141.5,474.7 L1143.0,475.0" stroke="#b0282c" stroke-width="9" stroke-opacity="0.35"/>
<path d="M125.0,402.2 L127.6,403.4 L130.0,405.0 L133.0,406.8 L136.3,408.7 L138.9,409.4 L141.6,411.4 L144.4,413.4 L147.2,415.3 L150.8,416.3 L154.5,418.1 L158.1,420.1 L161.7,420.8 L165.4,422.3 L169.0,423.4 L172.6,424.9 L176.3,426.3 L179.9,426.6 L183.5,428.1 L187.2,429.0 L190.8,429.9 L194.4,430.4 L198.1,431.5 L201.7,431.7 L205.3,432.4 L209.0,433.0 L212.6,434.2 L216.2,434.5 L219.9,434.9 L223.5,435.3 L227.1,436.2 L230.8,436.5 L234.4,436.9 L238.0,437.0 L241.7,437.4 L245.3,437.5 L248.9,438.3 L252.6,437.9 L256.2,438.6 L259.8,439.1 L263.4,439.1 L267.1,438.7 L271.2,439.0 L275.3,439.7 L279.0,439.5 L282.4,439.9 L286.3,440.1 L289.0,439.8 L292.2,440.5 L295.7,440.6 L299.3,440.5 L302.7,440.7 L306.1,440.5 L309.7,440.9 L313.2,441.5 L316.4,440.7 L319.0,441.2 L323.0,440.4 L325.6,440.4 L328.3,442.3 L331.0,443.8 L334.0,445.8 L337.5,448.1 L340.2,449.9 L343.1,451.1 L346.3,451.7 L349.5,453.0 L353.0,454.8 L357.1,455.2 L360.0,456.3 L363.3,457.0 L366.7,458.1 L370.1,458.7 L373.5,459.6 L376.8,460.0 L380.0,460.2 L383.3,460.7 L386.5,461.1 L389.8,462.3 L393.0,462.1 L396.0,462.4 L399.2,463.8 L402.5,463.4 L406.2,464.6 L409.2,464.2 L412.5,465.0 L416.0,465.2 L419.5,466.2 L422.9,466.4 L426.1,466.8 L429.0,467.2 L432.3,467.5 L434.3,467.0 L437.3,467.3 L443.6,467.3 L445.7,467.1 L448.0,467.9 L450.5,467.8 L453.2,468.2 L456.1,467.7 L459.2,468.2 L462.4,468.3 L465.6,468.8 L469.0,468.3 L472.4,468.7 L475.8,469.0 L479.2,468.7 L482.6,469.3 L485.9,469.6 L489.1,469.4 L492.2,469.7 L495.2,469.7 L498.0,469.3 L501.5,469.4 L505.0,469.9 L508.4,469.1 L511.8,469.1 L515.2,468.5 L518.5,468.4 L521.7,468.1 L524.9,468.6 L527.9,468.1 L530.9,468.0 L533.7,467.9 L536.5,467.4 L539.1,467.5 L541.6,467.0 L545.6,466.8 L549.3,467.3 L552.7,467.2 L555.8,467.3 L558.6,466.9 L561.1,467.3 L563.5,467.1 L565.6,467.9 L568.3,468.6 L569.4,468.9 L574.3,470.4 L576.3,469.8 L578.7,469.9 L581.3,470.7 L584.2,470.4 L587.3,470.8 L590.5,471.0 L593.9,470.5 L597.4,471.4 L600.9,471.0 L604.4,471.3 L607.9,471.3 L611.4,471.8 L614.7,471.9 L617.9,471.6 L621.0,471.5 L624.0,471.8 L627.0,472.0 L630.0,471.7 L632.9,471.9 L635.9,472.6 L638.8,472.6 L641.8,472.9 L644.9,473.0 L648.0,473.0 L651.2,472.5 L654.5,472.4 L657.9,472.6 L661.4,472.9 L664.0,473.0 L666.4,473.1 L668.6,472.9 L670.7,473.5 L672.7,473.0 L674.7,473.2 L676.7,473.7 L678.8,473.7 L681.0,473.3 L683.5,473.3 L686.3,473.9 L689.4,473.2 L692.8,473.3 L696.7,473.8 L701.2,473.9 L706.1,473.5 L711.7,473.5 L718.0,473.7 L720.0,474.3 L722.1,474.0 L724.2,474.5 L726.4,474.4 L728.6,474.6 L730.8,473.6 L733.2,473.8 L735.5,473.7 L737.9,474.1 L740.4,474.0 L742.9,473.8 L745.4,474.3 L748.0,473.8 L750.6,474.1 L753.3,474.0 L756.0,474.6 L758.7,474.2 L761.5,474.1 L764.3,473.9 L767.1,474.3 L770.0,474.5 L772.9,474.6 L775.9,474.8 L778.8,474.8 L781.9,474.2 L784.9,474.1 L788.0,474.8 L791.1,474.8 L794.2,474.6 L797.4,474.9 L800.5,474.6 L803.7,474.4 L807.0,474.3 L810.2,474.2 L813.5,474.8 L816.8,475.1 L820.1,475.1 L823.4,474.7 L826.8,474.9 L830.2,475.2 L833.6,475.1 L837.0,474.9 L840.4,474.7 L843.8,474.8 L847.3,474.5 L850.7,474.5 L854.2,475.0 L857.7,475.4 L861.2,474.9 L864.7,474.8 L868.2,474.8 L871.7,474.9 L875.2,475.2 L878.8,474.9 L882.3,475.4 L885.8,474.6 L889.4,474.8 L892.9,475.0 L896.5,474.9 L900.0,475.4 L902.7,475.3 L905.4,475.4 L908.1,475.1 L910.9,474.6 L913.8,475.1 L916.7,475.1 L919.6,475.0 L922.6,474.8 L925.7,475.3 L928.7,475.5 L931.8,474.7 L935.0,475.2 L938.2,474.9 L941.4,475.1 L944.6,475.5 L947.9,475.5 L951.2,475.2 L954.6,474.8 L957.9,475.5 L961.3,474.8 L964.7,475.0 L968.1,475.4 L971.6,474.9 L975.0,474.8 L978.5,475.5 L982.0,475.5 L985.5,474.9 L989.0,475.0 L992.5,474.9 L996.0,474.7 L999.5,474.8 L1003.1,475.6 L1006.6,474.7 L1010.1,474.8 L1013.6,474.8 L1017.1,474.6 L1020.7,475.1 L1024.2,475.3 L1027.7,475.4 L1031.1,475.2 L1034.6,475.4 L1038.1,474.6 L1041.5,474.8 L1044.9,475.5 L1048.3,474.6 L1051.7,474.8 L1055.1,475.0 L1058.4,474.8 L1061.7,475.1 L1065.0,474.6 L1068.2,474.8 L1071.4,475.5 L1074.6,474.7 L1077.7,475.4 L1080.8,474.7 L1083.9,475.5 L1086.9,475.2 L1089.9,475.2 L1092.9,474.7 L1095.8,474.6 L1098.6,475.3 L1101.4,474.7 L1104.2,474.7 L1106.9,475.3 L1109.5,475.4 L1112.1,474.6 L1114.6,475.5 L1117.1,475.0 L1119.5,474.9 L1121.8,474.6 L1124.1,474.9 L1126.3,475.5 L1128.5,474.8 L1130.6,474.6 L1132.6,474.6 L1134.5,474.6 L1136.4,474.9 L1138.1,475.4 L1139.8,474.6 L1141.5,474.7 L1143.0,475.0" stroke="#b0282c" stroke-width="6"/>
<path d="M125.0,471.6 L127.6,473.8 L130.0,475.8 L133.0,478.3 L136.3,480.2 L138.9,482.4 L141.6,485.2 L144.4,487.0 L147.2,489.4 L149.9,491.2 L152.6,493.2 L155.4,495.7 L158.1,498.2 L160.8,500.3 L163.6,502.0 L166.3,503.8 L169.0,505.6 L171.7,507.2 L174.4,508.8 L177.2,510.5 L179.9,511.3 L183.5,513.4 L187.2,515.4 L190.8,516.8 L194.4,517.5 L198.1,519.6 L201.7,520.6 L205.3,521.1 L209.0,522.2 L212.6,523.2 L216.2,524.3 L219.9,526.6 L223.5,527.3 L227.1,528.9 L230.8,529.2 L234.4,530.1 L238.0,531.8 L241.7,532.4 L245.3,533.3 L248.9,533.6 L252.6,533.9 L256.2,534.7 L259.8,534.6 L263.4,535.6 L267.1,536.0 L270.1,536.2 L273.3,537.1 L276.3,537.2 L279.0,537.8 L282.4,538.3 L286.3,538.9 L289.0,539.2 L292.2,539.8 L295.7,540.5 L299.3,540.8 L302.7,541.1 L306.1,541.4 L309.5,541.3 L312.9,542.5 L316.1,542.2 L319.0,542.5 L322.8,543.6 L326.1,544.5 L329.9,544.9 L332.8,545.9 L336.1,546.3 L339.5,547.8 L342.9,548.1 L346.3,548.9 L349.6,549.7 L352.8,550.8 L356.1,551.7 L359.3,552.0 L362.6,552.6 L365.9,553.5 L369.1,553.6 L372.4,554.6 L375.6,555.6 L378.9,556.2 L382.2,556.1 L385.5,557.4 L388.7,557.5 L392.0,558.7 L395.3,558.6 L398.5,558.9 L401.8,559.7 L405.0,560.4 L408.3,560.3 L411.6,561.2 L415.1,561.4 L418.6,561.4 L422.2,561.7 L425.7,562.2 L429.0,562.4 L431.9,562.6 L434.0,563.1 L437.2,563.5 L443.6,563.6 L445.6,563.3 L447.9,563.4 L450.4,563.7 L453.0,564.1 L455.8,563.8 L458.8,563.9 L461.9,564.3 L465.0,564.4 L468.3,564.3 L471.6,565.0 L475.0,565.5 L478.4,565.3 L481.8,565.7 L485.1,565.9 L488.5,566.1 L491.7,566.3 L494.9,565.9 L498.0,566.3 L501.0,565.8 L504.0,566.7 L507.0,566.3 L509.9,566.4 L512.8,566.9 L515.8,566.4 L518.7,566.4 L521.6,567.1 L524.6,566.9 L527.5,566.4 L530.5,566.4 L533.5,566.8 L536.6,566.5 L539.7,567.4 L542.8,566.8 L546.0,567.0 L549.2,567.2 L552.5,567.4 L555.4,567.4 L558.4,567.7 L561.5,567.8 L564.6,567.7 L567.8,567.4 L571.0,568.4 L574.3,568.2 L577.6,567.7 L580.9,568.2 L584.2,568.6 L587.5,569.0 L590.8,568.1 L594.1,568.2 L597.3,568.8 L600.5,568.8 L603.6,569.4 L606.6,569.4 L609.6,569.0 L612.5,569.2 L615.2,569.4 L617.9,569.8 L621.7,569.2 L625.1,569.5 L628.4,569.3 L631.5,569.9 L634.5,569.4 L637.4,570.3 L640.2,570.0 L643.0,570.1 L645.8,569.7 L648.7,569.9 L651.6,570.2 L654.7,570.7 L657.9,570.4 L661.4,570.3 L664.1,571.1 L666.7,570.8 L669.2,570.8 L671.6,570.6 L674.1,570.8 L676.5,571.5 L679.0,570.8 L681.5,571.3 L684.2,571.5 L687.0,571.4 L689.9,571.9 L693.1,572.1 L696.5,572.2 L700.1,572.1 L704.1,571.7 L708.3,571.6 L713.0,572.1 L718.0,572.0 L720.2,571.9 L722.4,572.6 L724.7,572.0 L727.1,572.6 L729.5,572.7 L732.0,572.0 L734.6,572.8 L737.2,572.3 L739.8,572.1 L742.5,572.1 L745.3,572.0 L748.1,572.5 L750.9,572.4 L753.8,572.8 L756.7,572.8 L759.7,572.1 L762.7,572.4 L765.7,572.4 L768.8,572.2 L771.9,572.3 L775.0,572.4 L778.2,572.8 L781.3,572.4 L784.5,572.2 L787.8,572.3 L791.0,572.6 L794.2,572.7 L797.5,572.4 L800.8,572.8 L804.1,572.4 L807.4,572.8 L810.7,572.8 L814.0,572.3 L817.3,572.9 L820.6,572.5 L823.9,572.7 L827.2,572.7 L830.5,572.7 L833.8,572.5 L837.0,572.1 L840.3,572.8 L843.6,572.9 L846.8,572.5 L850.0,572.6 L852.8,572.2 L855.7,572.9 L858.5,572.6 L861.4,572.1 L864.3,572.7 L867.2,572.8 L870.1,572.1 L873.1,572.7 L876.0,572.2 L879.0,571.8 L881.9,572.3 L884.9,571.9 L887.9,572.2 L890.9,572.0 L893.9,571.5 L896.9,571.8 L899.9,572.1 L903.0,571.7 L906.0,571.7 L909.0,571.9 L912.1,571.5 L915.1,571.4 L918.2,571.5 L921.3,571.6 L924.3,571.0 L927.4,570.8 L930.4,571.4 L933.5,571.1 L936.6,570.8 L939.6,571.3 L942.7,571.3 L945.8,570.9 L948.8,571.3 L951.9,571.1 L954.9,570.9 L958.0,570.4 L961.0,570.1 L964.1,570.7 L967.1,570.7 L970.2,570.3 L973.2,570.4 L976.2,570.4 L979.2,570.1 L982.2,570.5 L985.2,570.3 L988.2,570.1 L991.2,569.8 L994.1,570.3 L997.1,570.0 L1000.0,570.4 L1003.1,569.9 L1006.3,570.1 L1009.6,569.9 L1012.9,570.1 L1016.2,570.3 L1019.6,569.9 L1023.0,569.8 L1026.5,570.3 L1029.9,570.0 L1033.4,570.3 L1036.9,570.0 L1040.5,570.0 L1044.0,570.5 L1047.6,570.9 L1051.1,570.9 L1054.7,570.6 L1058.2,570.5 L1061.7,570.2 L1065.3,570.5 L1068.8,570.6 L1072.3,571.3 L1075.7,570.5 L1079.2,571.4 L1082.6,571.0 L1085.9,571.0 L1089.3,570.9 L1092.6,571.6 L1095.8,570.9 L1099.0,571.3 L1102.1,571.3 L1105.2,571.1 L1108.2,571.1 L1111.1,572.0 L1114.0,571.8 L1116.8,571.8 L1119.5,572.0 L1122.1,571.3 L1124.7,571.9 L1127.1,572.0 L1129.5,571.5 L1131.7,571.8 L1133.9,572.3 L1135.9,571.7 L1137.9,572.2 L1139.7,571.6 L1141.4,572.1 L1143.0,572.0" stroke="#7a8c4c" stroke-width="9" stroke-opacity="0.35"/>
<path d="M125.0,471.6 L127.6,473.8 L130.0,475.8 L133.0,478.3 L136.3,480.2 L138.9,482.4 L141.6,485.2 L144.4,487.0 L147.2,489.4 L149.9,491.2 L152.6,493.2 L155.4,495.7 L158.1,498.2 L160.8,500.3 L163.6,502.0 L166.3,503.8 L169.0,505.6 L171.7,507.2 L174.4,508.8 L177.2,510.5 L179.9,511.3 L183.5,513.4 L187.2,515.4 L190.8,516.8 L194.4,517.5 L198.1,519.6 L201.7,520.6 L205.3,521.1 L209.0,522.2 L212.6,523.2 L216.2,524.3 L219.9,526.6 L223.5,527.3 L227.1,528.9 L230.8,529.2 L234.4,530.1 L238.0,531.8 L241.7,532.4 L245.3,533.3 L248.9,533.6 L252.6,533.9 L256.2,534.7 L259.8,534.6 L263.4,535.6 L267.1,536.0 L270.1,536.2 L273.3,537.1 L276.3,537.2 L279.0,537.8 L282.4,538.3 L286.3,538.9 L289.0,539.2 L292.2,539.8 L295.7,540.5 L299.3,540.8 L302.7,541.1 L306.1,541.4 L309.5,541.3 L312.9,542.5 L316.1,542.2 L319.0,542.5 L322.8,543.6 L326.1,544.5 L329.9,544.9 L332.8,545.9 L336.1,546.3 L339.5,547.8 L342.9,548.1 L346.3,548.9 L349.6,549.7 L352.8,550.8 L356.1,551.7 L359.3,552.0 L362.6,552.6 L365.9,553.5 L369.1,553.6 L372.4,554.6 L375.6,555.6 L378.9,556.2 L382.2,556.1 L385.5,557.4 L388.7,557.5 L392.0,558.7 L395.3,558.6 L398.5,558.9 L401.8,559.7 L405.0,560.4 L408.3,560.3 L411.6,561.2 L415.1,561.4 L418.6,561.4 L422.2,561.7 L425.7,562.2 L429.0,562.4 L431.9,562.6 L434.0,563.1 L437.2,563.5 L443.6,563.6 L445.6,563.3 L447.9,563.4 L450.4,563.7 L453.0,564.1 L455.8,563.8 L458.8,563.9 L461.9,564.3 L465.0,564.4 L468.3,564.3 L471.6,565.0 L475.0,565.5 L478.4,565.3 L481.8,565.7 L485.1,565.9 L488.5,566.1 L491.7,566.3 L494.9,565.9 L498.0,566.3 L501.0,565.8 L504.0,566.7 L507.0,566.3 L509.9,566.4 L512.8,566.9 L515.8,566.4 L518.7,566.4 L521.6,567.1 L524.6,566.9 L527.5,566.4 L530.5,566.4 L533.5,566.8 L536.6,566.5 L539.7,567.4 L542.8,566.8 L546.0,567.0 L549.2,567.2 L552.5,567.4 L555.4,567.4 L558.4,567.7 L561.5,567.8 L564.6,567.7 L567.8,567.4 L571.0,568.4 L574.3,568.2 L577.6,567.7 L580.9,568.2 L584.2,568.6 L587.5,569.0 L590.8,568.1 L594.1,568.2 L597.3,568.8 L600.5,568.8 L603.6,569.4 L606.6,569.4 L609.6,569.0 L612.5,569.2 L615.2,569.4 L617.9,569.8 L621.7,569.2 L625.1,569.5 L628.4,569.3 L631.5,569.9 L634.5,569.4 L637.4,570.3 L640.2,570.0 L643.0,570.1 L645.8,569.7 L648.7,569.9 L651.6,570.2 L654.7,570.7 L657.9,570.4 L661.4,570.3 L664.1,571.1 L666.7,570.8 L669.2,570.8 L671.6,570.6 L674.1,570.8 L676.5,571.5 L679.0,570.8 L681.5,571.3 L684.2,571.5 L687.0,571.4 L689.9,571.9 L693.1,572.1 L696.5,572.2 L700.1,572.1 L704.1,571.7 L708.3,571.6 L713.0,572.1 L718.0,572.0 L720.2,571.9 L722.4,572.6 L724.7,572.0 L727.1,572.6 L729.5,572.7 L732.0,572.0 L734.6,572.8 L737.2,572.3 L739.8,572.1 L742.5,572.1 L745.3,572.0 L748.1,572.5 L750.9,572.4 L753.8,572.8 L756.7,572.8 L759.7,572.1 L762.7,572.4 L765.7,572.4 L768.8,572.2 L771.9,572.3 L775.0,572.4 L778.2,572.8 L781.3,572.4 L784.5,572.2 L787.8,572.3 L791.0,572.6 L794.2,572.7 L797.5,572.4 L800.8,572.8 L804.1,572.4 L807.4,572.8 L810.7,572.8 L814.0,572.3 L817.3,572.9 L820.6,572.5 L823.9,572.7 L827.2,572.7 L830.5,572.7 L833.8,572.5 L837.0,572.1 L840.3,572.8 L843.6,572.9 L846.8,572.5 L850.0,572.6 L852.8,572.2 L855.7,572.9 L858.5,572.6 L861.4,572.1 L864.3,572.7 L867.2,572.8 L870.1,572.1 L873.1,572.7 L876.0,572.2 L879.0,571.8 L881.9,572.3 L884.9,571.9 L887.9,572.2 L890.9,572.0 L893.9,571.5 L896.9,571.8 L899.9,572.1 L903.0,571.7 L906.0,571.7 L909.0,571.9 L912.1,571.5 L915.1,571.4 L918.2,571.5 L921.3,571.6 L924.3,571.0 L927.4,570.8 L930.4,571.4 L933.5,571.1 L936.6,570.8 L939.6,571.3 L942.7,571.3 L945.8,570.9 L948.8,571.3 L951.9,571.1 L954.9,570.9 L958.0,570.4 L961.0,570.1 L964.1,570.7 L967.1,570.7 L970.2,570.3 L973.2,570.4 L976.2,570.4 L979.2,570.1 L982.2,570.5 L985.2,570.3 L988.2,570.1 L991.2,569.8 L994.1,570.3 L997.1,570.0 L1000.0,570.4 L1003.1,569.9 L1006.3,570.1 L1009.6,569.9 L1012.9,570.1 L1016.2,570.3 L1019.6,569.9 L1023.0,569.8 L1026.5,570.3 L1029.9,570.0 L1033.4,570.3 L1036.9,570.0 L1040.5,570.0 L1044.0,570.5 L1047.6,570.9 L1051.1,570.9 L1054.7,570.6 L1058.2,570.5 L1061.7,570.2 L1065.3,570.5 L1068.8,570.6 L1072.3,571.3 L1075.7,570.5 L1079.2,571.4 L1082.6,571.0 L1085.9,571.0 L1089.3,570.9 L1092.6,571.6 L1095.8,570.9 L1099.0,571.3 L1102.1,571.3 L1105.2,571.1 L1108.2,571.1 L1111.1,572.0 L1114.0,571.8 L1116.8,571.8 L1119.5,572.0 L1122.1,571.3 L1124.7,571.9 L1127.1,572.0 L1129.5,571.5 L1131.7,571.8 L1133.9,572.3 L1135.9,571.7 L1137.9,572.2 L1139.7,571.6 L1141.4,572.1 L1143.0,572.0" stroke="#7a8c4c" stroke-width="6"/>
<path d="M125.0,597.6 L127.6,598.7 L130.0,600.3 L133.0,602.1 L136.3,604.7 L138.9,606.2 L141.6,607.8 L144.4,609.8 L147.2,611.3 L149.9,613.3 L152.6,614.3 L155.4,616.0 L158.1,617.5 L161.7,619.0 L165.4,620.3 L169.0,622.0 L172.6,624.0 L176.3,625.1 L179.9,627.0 L183.5,627.9 L187.2,629.4 L190.8,630.2 L194.4,631.1 L198.1,631.7 L201.7,632.2 L205.3,633.5 L209.0,634.4 L212.6,635.2 L216.2,635.2 L219.9,636.0 L223.5,637.5 L227.1,637.9 L230.8,638.2 L234.4,638.9 L238.0,638.6 L241.7,639.1 L245.3,639.4 L248.9,639.5 L252.6,639.2 L256.2,639.3 L259.8,640.0 L263.4,640.4 L267.1,639.7 L271.2,639.7 L275.3,640.0 L279.0,640.8 L282.4,640.5 L286.3,640.8 L289.0,641.5 L292.2,641.3 L295.7,641.2 L299.3,641.9 L302.7,641.4 L306.1,641.9 L309.5,642.5 L313.0,642.2 L316.2,642.3 L319.0,643.0 L322.9,643.1 L326.0,644.0 L328.8,643.7 L332.0,646.1 L335.4,647.8 L338.5,649.5 L342.1,650.3 L346.3,651.9 L349.2,652.4 L352.4,653.2 L355.8,654.3 L359.3,655.5 L362.6,655.8 L365.9,656.5 L369.1,657.3 L372.4,657.7 L375.6,658.5 L378.9,659.4 L382.2,659.9 L385.5,660.5 L388.7,660.8 L392.0,661.0 L395.3,661.5 L398.5,662.3 L401.8,662.6 L405.0,663.5 L408.3,663.6 L411.6,664.5 L415.1,664.7 L418.6,665.1 L422.2,665.5 L425.7,665.6 L429.0,665.7 L431.9,665.8 L434.0,665.6 L437.2,666.4 L443.6,666.3 L445.6,666.0 L447.9,666.9 L450.4,666.7 L453.1,666.8 L455.9,666.8 L458.9,666.6 L462.1,667.6 L465.3,666.9 L468.6,667.3 L471.9,668.0 L475.3,667.3 L478.7,667.8 L482.1,667.9 L485.4,667.7 L488.7,668.5 L491.9,668.0 L495.0,667.6 L498.0,668.1 L501.3,667.5 L504.6,668.1 L508.0,668.2 L511.4,668.0 L514.8,666.9 L518.2,667.3 L521.5,666.7 L524.8,666.7 L528.1,666.2 L531.3,666.0 L534.4,665.6 L537.4,665.9 L540.2,665.2 L543.0,665.9 L545.6,664.9 L548.1,665.8 L552.4,665.0 L555.9,665.1 L558.9,666.0 L561.6,666.1 L564.3,666.7 L567.1,666.8 L570.4,667.2 L574.3,667.0 L576.9,667.7 L579.6,667.7 L582.5,668.3 L585.5,667.6 L588.6,667.8 L591.8,668.6 L595.0,669.0 L598.3,668.7 L601.6,669.1 L604.9,669.1 L608.2,669.1 L611.5,669.3 L614.7,669.6 L617.9,669.1 L621.0,669.5 L624.0,670.1 L627.0,669.7 L630.0,670.0 L632.9,669.8 L635.9,670.0 L638.8,670.4 L641.8,670.5 L644.9,670.8 L648.0,670.4 L651.2,670.2 L654.5,670.4 L657.9,670.2 L661.4,670.4 L664.0,670.8 L666.4,670.9 L668.6,670.6 L670.7,670.6 L672.7,670.6 L674.7,670.8 L676.7,671.1 L678.8,671.0 L681.0,671.7 L683.5,671.4 L686.3,671.2 L689.4,671.4 L692.8,671.1 L696.7,671.8 L701.2,671.9 L706.1,671.6 L711.7,672.0 L718.0,671.6 L720.0,671.5 L722.1,671.6 L724.2,671.5 L726.4,672.0 L728.6,672.0 L730.8,672.1 L733.2,671.5 L735.5,672.2 L737.9,671.9 L740.4,671.8 L742.9,672.0 L745.4,671.9 L748.0,671.7 L750.6,671.9 L753.3,672.2 L756.0,672.3 L758.7,672.5 L761.5,671.8 L764.3,672.5 L767.1,672.4 L770.0,672.3 L772.9,672.6 L775.9,671.8 L778.8,672.4 L781.9,672.6 L784.9,671.8 L788.0,672.3 L791.1,672.7 L794.2,672.0 L797.4,672.6 L800.5,672.7 L803.7,672.2 L807.0,671.9 L810.2,672.0 L813.5,672.6 L816.8,672.2 L820.1,672.2 L823.4,672.3 L826.8,672.8 L830.2,672.1 L833.6,671.9 L837.0,672.8 L840.4,672.2 L843.8,672.3 L847.3,672.9 L850.7,672.2 L854.2,672.0 L857.7,672.8 L861.2,672.2 L864.7,672.2 L868.2,672.9 L871.7,672.2 L875.2,672.9 L878.8,672.3 L882.3,672.3 L885.8,672.2 L889.4,672.5 L892.9,672.6 L896.5,672.4 L900.0,672.5 L902.7,672.3 L905.4,672.8 L908.1,672.9 L910.9,672.8 L913.8,672.8 L916.7,672.1 L919.6,672.2 L922.6,672.2 L925.7,672.1 L928.7,673.0 L931.8,672.9 L935.0,672.9 L938.2,672.5 L941.4,672.1 L944.6,672.4 L947.9,672.0 L951.2,672.9 L954.6,672.2 L957.9,672.2 L961.3,672.9 L964.7,672.1 L968.1,672.9 L971.6,672.2 L975.0,672.6 L978.5,672.0 L982.0,672.8 L985.5,672.3 L989.0,672.2 L992.5,672.5 L996.0,672.5 L999.5,672.1 L1003.1,672.0 L1006.6,672.4 L1010.1,671.9 L1013.6,672.7 L1017.1,672.2 L1020.7,672.0 L1024.2,672.1 L1027.7,671.9 L1031.1,672.1 L1034.6,672.3 L1038.1,672.2 L1041.5,672.1 L1044.9,672.1 L1048.3,672.2 L1051.7,672.5 L1055.1,672.2 L1058.4,672.5 L1061.7,672.2 L1065.0,671.8 L1068.2,671.9 L1071.4,672.5 L1074.6,672.2 L1077.7,672.1 L1080.8,672.2 L1083.9,672.5 L1086.9,672.0 L1089.9,672.0 L1092.9,672.0 L1095.8,671.6 L1098.6,672.2 L1101.4,672.1 L1104.2,672.1 L1106.9,672.0 L1109.5,672.1 L1112.1,672.3 L1114.6,671.8 L1117.1,672.5 L1119.5,671.7 L1121.8,672.4 L1124.1,671.7 L1126.3,672.3 L1128.5,671.8 L1130.6,671.6 L1132.6,672.1 L1134.5,672.4 L1136.4,672.4 L1138.1,672.4 L1139.8,672.5 L1141.5,671.6 L1143.0,672.0" stroke="#ecb80a" stroke-width="9" stroke-opacity="0.35"/>
<path d="M125.0,597.6 L127.6,598.7 L130.0,600.3 L133.0,602.1 L136.3,604.7 L138.9,606.2 L141.6,607.8 L144.4,609.8 L147.2,611.3 L149.9,613.3 L152.6,614.3 L155.4,616.0 L158.1,617.5 L161.7,619.0 L165.4,620.3 L169.0,622.0 L172.6,624.0 L176.3,625.1 L179.9,627.0 L183.5,627.9 L187.2,629.4 L190.8,630.2 L194.4,631.1 L198.1,631.7 L201.7,632.2 L205.3,633.5 L209.0,634.4 L212.6,635.2 L216.2,635.2 L219.9,636.0 L223.5,637.5 L227.1,637.9 L230.8,638.2 L234.4,638.9 L238.0,638.6 L241.7,639.1 L245.3,639.4 L248.9,639.5 L252.6,639.2 L256.2,639.3 L259.8,640.0 L263.4,640.4 L267.1,639.7 L271.2,639.7 L275.3,640.0 L279.0,640.8 L282.4,640.5 L286.3,640.8 L289.0,641.5 L292.2,641.3 L295.7,641.2 L299.3,641.9 L302.7,641.4 L306.1,641.9 L309.5,642.5 L313.0,642.2 L316.2,642.3 L319.0,643.0 L322.9,643.1 L326.0,644.0 L328.8,643.7 L332.0,646.1 L335.4,647.8 L338.5,649.5 L342.1,650.3 L346.3,651.9 L349.2,652.4 L352.4,653.2 L355.8,654.3 L359.3,655.5 L362.6,655.8 L365.9,656.5 L369.1,657.3 L372.4,657.7 L375.6,658.5 L378.9,659.4 L382.2,659.9 L385.5,660.5 L388.7,660.8 L392.0,661.0 L395.3,661.5 L398.5,662.3 L401.8,662.6 L405.0,663.5 L408.3,663.6 L411.6,664.5 L415.1,664.7 L418.6,665.1 L422.2,665.5 L425.7,665.6 L429.0,665.7 L431.9,665.8 L434.0,665.6 L437.2,666.4 L443.6,666.3 L445.6,666.0 L447.9,666.9 L450.4,666.7 L453.1,666.8 L455.9,666.8 L458.9,666.6 L462.1,667.6 L465.3,666.9 L468.6,667.3 L471.9,668.0 L475.3,667.3 L478.7,667.8 L482.1,667.9 L485.4,667.7 L488.7,668.5 L491.9,668.0 L495.0,667.6 L498.0,668.1 L501.3,667.5 L504.6,668.1 L508.0,668.2 L511.4,668.0 L514.8,666.9 L518.2,667.3 L521.5,666.7 L524.8,666.7 L528.1,666.2 L531.3,666.0 L534.4,665.6 L537.4,665.9 L540.2,665.2 L543.0,665.9 L545.6,664.9 L548.1,665.8 L552.4,665.0 L555.9,665.1 L558.9,666.0 L561.6,666.1 L564.3,666.7 L567.1,666.8 L570.4,667.2 L574.3,667.0 L576.9,667.7 L579.6,667.7 L582.5,668.3 L585.5,667.6 L588.6,667.8 L591.8,668.6 L595.0,669.0 L598.3,668.7 L601.6,669.1 L604.9,669.1 L608.2,669.1 L611.5,669.3 L614.7,669.6 L617.9,669.1 L621.0,669.5 L624.0,670.1 L627.0,669.7 L630.0,670.0 L632.9,669.8 L635.9,670.0 L638.8,670.4 L641.8,670.5 L644.9,670.8 L648.0,670.4 L651.2,670.2 L654.5,670.4 L657.9,670.2 L661.4,670.4 L664.0,670.8 L666.4,670.9 L668.6,670.6 L670.7,670.6 L672.7,670.6 L674.7,670.8 L676.7,671.1 L678.8,671.0 L681.0,671.7 L683.5,671.4 L686.3,671.2 L689.4,671.4 L692.8,671.1 L696.7,671.8 L701.2,671.9 L706.1,671.6 L711.7,672.0 L718.0,671.6 L720.0,671.5 L722.1,671.6 L724.2,671.5 L726.4,672.0 L728.6,672.0 L730.8,672.1 L733.2,671.5 L735.5,672.2 L737.9,671.9 L740.4,671.8 L742.9,672.0 L745.4,671.9 L748.0,671.7 L750.6,671.9 L753.3,672.2 L756.0,672.3 L758.7,672.5 L761.5,671.8 L764.3,672.5 L767.1,672.4 L770.0,672.3 L772.9,672.6 L775.9,671.8 L778.8,672.4 L781.9,672.6 L784.9,671.8 L788.0,672.3 L791.1,672.7 L794.2,672.0 L797.4,672.6 L800.5,672.7 L803.7,672.2 L807.0,671.9 L810.2,672.0 L813.5,672.6 L816.8,672.2 L820.1,672.2 L823.4,672.3 L826.8,672.8 L830.2,672.1 L833.6,671.9 L837.0,672.8 L840.4,672.2 L843.8,672.3 L847.3,672.9 L850.7,672.2 L854.2,672.0 L857.7,672.8 L861.2,672.2 L864.7,672.2 L868.2,672.9 L871.7,672.2 L875.2,672.9 L878.8,672.3 L882.3,672.3 L885.8,672.2 L889.4,672.5 L892.9,672.6 L896.5,672.4 L900.0,672.5 L902.7,672.3 L905.4,672.8 L908.1,672.9 L910.9,672.8 L913.8,672.8 L916.7,672.1 L919.6,672.2 L922.6,672.2 L925.7,672.1 L928.7,673.0 L931.8,672.9 L935.0,672.9 L938.2,672.5 L941.4,672.1 L944.6,672.4 L947.9,672.0 L951.2,672.9 L954.6,672.2 L957.9,672.2 L961.3,672.9 L964.7,672.1 L968.1,672.9 L971.6,672.2 L975.0,672.6 L978.5,672.0 L982.0,672.8 L985.5,672.3 L989.0,672.2 L992.5,672.5 L996.0,672.5 L999.5,672.1 L1003.1,672.0 L1006.6,672.4 L1010.1,671.9 L1013.6,672.7 L1017.1,672.2 L1020.7,672.0 L1024.2,672.1 L1027.7,671.9 L1031.1,672.1 L1034.6,672.3 L1038.1,672.2 L1041.5,672.1 L1044.9,672.1 L1048.3,672.2 L1051.7,672.5 L1055.1,672.2 L1058.4,672.5 L1061.7,672.2 L1065.0,671.8 L1068.2,671.9 L1071.4,672.5 L1074.6,672.2 L1077.7,672.1 L1080.8,672.2 L1083.9,672.5 L1086.9,672.0 L1089.9,672.0 L1092.9,672.0 L1095.8,671.6 L1098.6,672.2 L1101.4,672.1 L1104.2,672.1 L1106.9,672.0 L1109.5,672.1 L1112.1,672.3 L1114.6,671.8 L1117.1,672.5 L1119.5,671.7 L1121.8,672.4 L1124.1,671.7 L1126.3,672.3 L1128.5,671.8 L1130.6,671.6 L1132.6,672.1 L1134.5,672.4 L1136.4,672.4 L1138.1,672.4 L1139.8,672.5 L1141.5,671.6 L1143.0,672.0" stroke="#ecb80a" stroke-width="6"/>
<path d="M125.0,659.0 L127.6,660.8 L130.0,662.5 L133.0,665.8 L136.3,668.5 L138.9,671.1 L141.6,673.6 L144.4,676.4 L147.2,678.5 L149.9,681.0 L152.6,682.8 L155.4,684.5 L158.1,687.4 L160.8,688.6 L163.6,690.5 L166.3,693.1 L169.0,694.5 L171.7,696.8 L174.4,698.1 L177.2,700.2 L179.9,702.5 L182.6,703.6 L185.4,705.8 L188.1,707.8 L190.8,708.5 L194.4,710.6 L198.1,712.1 L201.7,713.3 L205.3,714.9 L209.0,716.3 L212.6,717.0 L216.2,718.4 L219.9,719.8 L223.5,721.3 L227.1,721.5 L230.8,722.7 L234.4,723.1 L238.0,724.8 L241.7,725.4 L245.3,726.3 L248.9,727.2 L252.6,727.4 L256.2,728.6 L259.8,729.4 L263.4,730.2 L267.1,730.4 L270.1,730.8 L273.3,731.3 L276.3,732.5 L279.0,732.5 L282.4,733.4 L286.3,734.6 L289.0,735.3 L292.2,735.4 L295.7,736.0 L299.3,737.0 L302.7,737.6 L306.0,737.7 L309.2,738.2 L312.5,739.7 L315.7,740.2 L319.0,740.7 L322.3,741.2 L325.6,742.4 L328.8,742.6 L332.1,743.0 L335.4,743.5 L338.7,744.3 L341.9,745.1 L345.2,745.4 L348.4,746.5 L351.7,746.7 L355.0,747.2 L358.2,748.1 L361.5,748.7 L364.7,749.4 L368.0,749.9 L371.3,750.4 L374.6,750.8 L377.8,751.5 L381.1,751.3 L384.4,752.3 L387.7,752.2 L390.9,753.2 L394.2,752.9 L397.4,753.7 L400.7,754.1 L404.0,754.9 L407.5,754.8 L410.9,755.4 L414.1,755.7 L417.1,756.5 L421.3,756.9 L425.0,756.7 L429.0,757.2 L431.5,757.4 L433.6,758.4 L437.1,758.1 L443.6,758.6 L445.6,758.4 L447.9,758.9 L450.4,759.2 L453.0,759.2 L455.8,758.7 L458.8,759.3 L461.9,759.5 L465.0,759.2 L468.3,760.2 L471.6,759.9 L475.0,760.0 L478.4,760.5 L481.8,760.6 L485.1,760.7 L488.5,761.2 L491.7,761.1 L494.9,761.0 L498.0,760.9 L501.0,761.5 L504.0,761.4 L507.0,761.7 L509.9,761.6 L512.8,761.3 L515.8,761.4 L518.7,761.6 L521.6,761.7 L524.6,762.5 L527.5,762.3 L530.5,762.0 L533.5,762.6 L536.6,762.6 L539.7,762.1 L542.8,762.9 L546.0,762.4 L549.2,763.3 L552.5,762.5 L555.4,762.8 L558.4,762.8 L561.5,763.5 L564.6,763.6 L567.8,763.5 L571.0,763.1 L574.3,763.5 L577.6,763.9 L580.9,763.4 L584.2,764.3 L587.5,764.4 L590.8,764.6 L594.1,764.4 L597.3,764.5 L600.5,764.9 L603.6,764.3 L606.6,764.5 L609.6,764.4 L612.5,764.5 L615.2,765.2 L617.9,764.6 L621.7,765.4 L625.1,765.1 L628.4,765.7 L631.5,765.7 L634.5,765.7 L637.4,765.9 L640.2,765.2 L643.0,765.5 L645.8,765.6 L648.7,765.8 L651.6,766.1 L654.7,766.4 L657.9,766.3 L661.4,766.5 L664.2,766.3 L667.0,766.0 L669.8,766.2 L672.6,766.5 L675.5,766.6 L678.4,766.2 L681.3,766.2 L684.3,766.5 L687.3,766.2 L690.4,766.9 L693.5,766.0 L696.8,766.7 L700.1,766.6 L703.5,766.3 L706.9,766.7 L710.5,766.7 L714.2,767.2 L718.0,767.2 L720.5,766.9 L722.9,767.3 L725.2,767.3 L727.4,766.7 L729.6,767.4 L731.7,767.5 L733.8,767.7 L735.9,767.5 L738.0,767.2 L740.1,767.1 L742.3,767.7 L744.6,767.3 L746.9,767.9 L749.4,767.8 L752.0,768.1 L754.8,767.7 L757.7,767.7 L760.8,768.4 L764.1,768.2 L767.6,767.9 L771.3,768.1 L775.4,768.0 L779.7,768.2 L784.3,768.1 L789.2,767.9 L794.4,768.5 L800.0,768.4 L802.1,768.2 L804.2,767.7 L806.5,767.6 L808.8,768.1 L811.1,768.2 L813.5,768.0 L816.0,767.5 L818.6,768.0 L821.1,767.7 L823.8,767.6 L826.5,767.7 L829.3,767.5 L832.1,767.7 L834.9,767.7 L837.8,767.9 L840.8,767.0 L843.7,767.4 L846.8,767.7 L849.8,767.4 L852.9,767.2 L856.1,767.4 L859.2,766.6 L862.5,767.3 L865.7,767.0 L868.9,766.9 L872.2,766.6 L875.5,766.8 L878.9,766.3 L882.2,766.6 L885.6,766.2 L889.0,766.9 L892.4,766.7 L895.8,766.3 L899.3,766.5 L902.7,766.0 L906.1,766.1 L909.6,765.7 L913.1,766.3 L916.5,766.1 L920.0,766.0 L923.5,765.3 L926.9,766.0 L930.4,765.1 L933.8,765.6 L937.3,765.4 L940.7,764.9 L944.1,765.2 L947.5,765.6 L950.9,765.3 L954.3,764.9 L957.6,765.3 L961.0,764.8 L964.3,765.3 L967.6,764.7 L970.8,764.4 L974.1,765.2 L977.3,764.2 L980.4,764.4 L983.6,764.8 L986.7,764.1 L989.7,764.5 L992.8,764.8 L995.7,764.5 L998.7,764.2 L1001.6,764.5 L1004.4,764.6 L1007.2,764.3 L1010.0,764.3 L1012.7,764.0 L1015.3,764.0 L1017.9,764.6 L1020.5,764.5 L1022.9,763.5 L1025.4,763.7 L1027.7,763.7 L1030.0,764.3 L1034.6,763.7 L1039.1,763.7 L1043.5,764.3 L1047.8,763.7 L1052.1,764.5 L1056.2,764.0 L1060.3,764.5 L1064.3,764.5 L1068.2,763.9 L1072.0,764.6 L1075.7,764.3 L1079.3,764.1 L1082.9,764.0 L1086.3,764.8 L1089.7,764.7 L1093.0,764.6 L1096.2,765.2 L1099.3,764.6 L1102.4,765.0 L1105.3,764.7 L1108.2,765.1 L1111.0,765.7 L1113.7,765.4 L1116.3,765.2 L1118.9,765.4 L1121.3,765.9 L1123.7,765.6 L1126.0,766.3 L1128.2,765.6 L1130.3,766.5 L1132.4,766.3 L1134.4,766.6 L1136.3,766.2 L1138.1,765.9 L1139.8,766.1 L1141.4,766.6 L1143.0,766.5" stroke="#ff7d04" stroke-width="9" stroke-opacity="0.35"/>
<path d="M125.0,659.0 L127.6,660.8 L130.0,662.5 L133.0,665.8 L136.3,668.5 L138.9,671.1 L141.6,673.6 L144.4,676.4 L147.2,678.5 L149.9,681.0 L152.6,682.8 L155.4,684.5 L158.1,687.4 L160.8,688.6 L163.6,690.5 L166.3,693.1 L169.0,694.5 L171.7,696.8 L174.4,698.1 L177.2,700.2 L179.9,702.5 L182.6,703.6 L185.4,705.8 L188.1,707.8 L190.8,708.5 L194.4,710.6 L198.1,712.1 L201.7,713.3 L205.3,714.9 L209.0,716.3 L212.6,717.0 L216.2,718.4 L219.9,719.8 L223.5,721.3 L227.1,721.5 L230.8,722.7 L234.4,723.1 L238.0,724.8 L241.7,725.4 L245.3,726.3 L248.9,727.2 L252.6,727.4 L256.2,728.6 L259.8,729.4 L263.4,730.2 L267.1,730.4 L270.1,730.8 L273.3,731.3 L276.3,732.5 L279.0,732.5 L282.4,733.4 L286.3,734.6 L289.0,735.3 L292.2,735.4 L295.7,736.0 L299.3,737.0 L302.7,737.6 L306.0,737.7 L309.2,738.2 L312.5,739.7 L315.7,740.2 L319.0,740.7 L322.3,741.2 L325.6,742.4 L328.8,742.6 L332.1,743.0 L335.4,743.5 L338.7,744.3 L341.9,745.1 L345.2,745.4 L348.4,746.5 L351.7,746.7 L355.0,747.2 L358.2,748.1 L361.5,748.7 L364.7,749.4 L368.0,749.9 L371.3,750.4 L374.6,750.8 L377.8,751.5 L381.1,751.3 L384.4,752.3 L387.7,752.2 L390.9,753.2 L394.2,752.9 L397.4,753.7 L400.7,754.1 L404.0,754.9 L407.5,754.8 L410.9,755.4 L414.1,755.7 L417.1,756.5 L421.3,756.9 L425.0,756.7 L429.0,757.2 L431.5,757.4 L433.6,758.4 L437.1,758.1 L443.6,758.6 L445.6,758.4 L447.9,758.9 L450.4,759.2 L453.0,759.2 L455.8,758.7 L458.8,759.3 L461.9,759.5 L465.0,759.2 L468.3,760.2 L471.6,759.9 L475.0,760.0 L478.4,760.5 L481.8,760.6 L485.1,760.7 L488.5,761.2 L491.7,761.1 L494.9,761.0 L498.0,760.9 L501.0,761.5 L504.0,761.4 L507.0,761.7 L509.9,761.6 L512.8,761.3 L515.8,761.4 L518.7,761.6 L521.6,761.7 L524.6,762.5 L527.5,762.3 L530.5,762.0 L533.5,762.6 L536.6,762.6 L539.7,762.1 L542.8,762.9 L546.0,762.4 L549.2,763.3 L552.5,762.5 L555.4,762.8 L558.4,762.8 L561.5,763.5 L564.6,763.6 L567.8,763.5 L571.0,763.1 L574.3,763.5 L577.6,763.9 L580.9,763.4 L584.2,764.3 L587.5,764.4 L590.8,764.6 L594.1,764.4 L597.3,764.5 L600.5,764.9 L603.6,764.3 L606.6,764.5 L609.6,764.4 L612.5,764.5 L615.2,765.2 L617.9,764.6 L621.7,765.4 L625.1,765.1 L628.4,765.7 L631.5,765.7 L634.5,765.7 L637.4,765.9 L640.2,765.2 L643.0,765.5 L645.8,765.6 L648.7,765.8 L651.6,766.1 L654.7,766.4 L657.9,766.3 L661.4,766.5 L664.2,766.3 L667.0,766.0 L669.8,766.2 L672.6,766.5 L675.5,766.6 L678.4,766.2 L681.3,766.2 L684.3,766.5 L687.3,766.2 L690.4,766.9 L693.5,766.0 L696.8,766.7 L700.1,766.6 L703.5,766.3 L706.9,766.7 L710.5,766.7 L714.2,767.2 L718.0,767.2 L720.5,766.9 L722.9,767.3 L725.2,767.3 L727.4,766.7 L729.6,767.4 L731.7,767.5 L733.8,767.7 L735.9,767.5 L738.0,767.2 L740.1,767.1 L742.3,767.7 L744.6,767.3 L746.9,767.9 L749.4,767.8 L752.0,768.1 L754.8,767.7 L757.7,767.7 L760.8,768.4 L764.1,768.2 L767.6,767.9 L771.3,768.1 L775.4,768.0 L779.7,768.2 L784.3,768.1 L789.2,767.9 L794.4,768.5 L800.0,768.4 L802.1,768.2 L804.2,767.7 L806.5,767.6 L808.8,768.1 L811.1,768.2 L813.5,768.0 L816.0,767.5 L818.6,768.0 L821.1,767.7 L823.8,767.6 L826.5,767.7 L829.3,767.5 L832.1,767.7 L834.9,767.7 L837.8,767.9 L840.8,767.0 L843.7,767.4 L846.8,767.7 L849.8,767.4 L852.9,767.2 L856.1,767.4 L859.2,766.6 L862.5,767.3 L865.7,767.0 L868.9,766.9 L872.2,766.6 L875.5,766.8 L878.9,766.3 L882.2,766.6 L885.6,766.2 L889.0,766.9 L892.4,766.7 L895.8,766.3 L899.3,766.5 L902.7,766.0 L906.1,766.1 L909.6,765.7 L913.1,766.3 L916.5,766.1 L920.0,766.0 L923.5,765.3 L926.9,766.0 L930.4,765.1 L933.8,765.6 L937.3,765.4 L940.7,764.9 L944.1,765.2 L947.5,765.6 L950.9,765.3 L954.3,764.9 L957.6,765.3 L961.0,764.8 L964.3,765.3 L967.6,764.7 L970.8,764.4 L974.1,765.2 L977.3,764.2 L980.4,764.4 L983.6,764.8 L986.7,764.1 L989.7,764.5 L992.8,764.8 L995.7,764.5 L998.7,764.2 L1001.6,764.5 L1004.4,764.6 L1007.2,764.3 L1010.0,764.3 L1012.7,764.0 L1015.3,764.0 L1017.9,764.6 L1020.5,764.5 L1022.9,763.5 L1025.4,763.7 L1027.7,763.7 L1030.0,764.3 L1034.6,763.7 L1039.1,763.7 L1043.5,764.3 L1047.8,763.7 L1052.1,764.5 L1056.2,764.0 L1060.3,764.5 L1064.3,764.5 L1068.2,763.9 L1072.0,764.6 L1075.7,764.3 L1079.3,764.1 L1082.9,764.0 L1086.3,764.8 L1089.7,764.7 L1093.0,764.6 L1096.2,765.2 L1099.3,764.6 L1102.4,765.0 L1105.3,764.7 L1108.2,765.1 L1111.0,765.7 L1113.7,765.4 L1116.3,765.2 L1118.9,765.4 L1121.3,765.9 L1123.7,765.6 L1126.0,766.3 L1128.2,765.6 L1130.3,766.5 L1132.4,766.3 L1134.4,766.6 L1136.3,766.2 L1138.1,765.9 L1139.8,766.1 L1141.4,766.6 L1143.0,766.5" stroke="#ff7d04" stroke-width="6"/>
<path d="M125.0,788.8 L127.6,789.5 L130.0,791.0 L133.0,793.6 L136.3,795.8 L138.9,797.6 L141.6,799.6 L144.4,801.3 L147.2,803.5 L149.9,804.8 L152.6,806.0 L155.4,807.2 L158.1,808.0 L161.7,809.8 L165.4,811.6 L169.0,813.4 L172.6,814.6 L176.3,816.9 L179.9,817.9 L183.5,819.3 L187.2,820.5 L190.8,820.7 L194.4,822.1 L198.1,822.7 L201.7,822.5 L205.3,822.9 L209.0,824.1 L212.6,824.7 L216.2,825.0 L219.9,825.0 L223.5,825.5 L227.1,825.4 L230.8,825.9 L234.4,826.4 L238.0,827.1 L241.7,826.9 L245.3,828.0 L248.9,827.4 L252.6,828.5 L256.2,828.0 L259.8,828.9 L263.4,829.2 L267.1,829.7 L271.2,829.5 L275.3,830.0 L279.0,829.9 L282.4,830.7 L286.3,830.4 L289.0,831.4 L292.2,831.4 L295.7,831.1 L299.3,832.4 L302.7,832.2 L306.0,832.6 L309.2,833.5 L312.5,834.0 L315.7,835.1 L319.0,836.4 L322.3,837.6 L325.6,838.2 L328.8,839.4 L332.1,840.4 L335.4,841.3 L338.7,842.0 L341.9,842.9 L345.2,843.8 L348.4,845.1 L351.7,845.7 L355.0,847.1 L358.2,847.5 L361.5,848.6 L364.7,849.3 L368.0,850.0 L371.3,850.2 L374.6,850.8 L377.8,851.8 L381.1,851.8 L384.4,852.8 L387.7,853.5 L390.9,853.4 L394.2,854.5 L397.4,854.5 L400.7,855.2 L404.0,855.2 L407.5,855.7 L410.9,855.9 L414.1,855.7 L417.1,856.2 L421.3,856.5 L425.0,856.5 L429.0,857.1 L431.5,857.8 L433.6,858.3 L437.1,858.9 L443.6,858.8 L445.7,859.5 L448.0,859.6 L450.5,860.1 L453.2,859.3 L456.1,859.6 L459.2,860.6 L462.4,860.1 L465.6,860.6 L469.0,860.7 L472.4,860.6 L475.8,860.8 L479.2,861.1 L482.6,861.6 L485.9,861.3 L489.1,861.6 L492.2,861.2 L495.2,861.6 L498.0,861.5 L501.5,861.6 L505.0,861.6 L508.5,860.7 L511.9,861.4 L515.3,860.8 L518.6,860.2 L521.8,860.2 L525.0,859.6 L528.1,859.4 L531.0,859.8 L533.9,859.5 L536.6,859.5 L539.2,858.7 L541.6,858.6 L545.8,858.9 L549.1,859.3 L551.9,859.8 L554.4,859.7 L557.0,860.6 L559.9,860.8 L563.4,860.9 L566.1,861.6 L568.7,861.1 L571.4,861.9 L574.1,861.8 L577.0,861.9 L580.1,862.6 L583.5,862.9 L587.2,863.2 L591.4,863.2 L596.0,863.9 L598.4,863.9 L601.0,863.3 L603.7,863.3 L606.5,864.3 L609.5,863.8 L612.6,863.6 L615.7,863.7 L618.9,864.3 L622.2,863.9 L625.5,864.1 L628.9,864.5 L632.3,864.2 L635.7,864.6 L639.0,865.0 L642.4,864.9 L645.7,864.8 L649.0,864.8 L652.2,864.6 L655.4,865.0 L658.4,865.1 L661.4,865.1 L664.6,865.1 L667.4,865.4 L669.9,865.0 L672.2,865.6 L674.3,865.9 L676.3,865.1 L678.3,865.4 L680.3,866.3 L682.4,865.5 L684.7,866.3 L687.3,866.1 L690.2,865.7 L693.4,866.4 L697.2,865.8 L701.4,866.8 L706.3,866.3 L711.8,867.0 L718.0,867.0 L720.0,866.3 L722.2,866.5 L724.4,866.3 L726.7,866.9 L729.0,866.3 L731.5,866.3 L734.0,866.3 L736.6,867.1 L739.3,866.5 L742.0,866.6 L744.8,866.7 L747.7,866.8 L750.6,866.7 L753.6,867.3 L756.6,866.7 L759.7,866.8 L762.8,867.2 L766.0,866.6 L769.2,866.5 L772.4,867.2 L775.7,866.7 L779.0,867.3 L782.3,867.2 L785.7,866.8 L789.1,866.8 L792.5,866.5 L795.9,867.3 L799.4,866.9 L802.8,866.8 L806.3,866.6 L809.8,866.7 L813.2,867.3 L816.7,866.6 L820.2,867.0 L823.6,867.1 L827.1,867.0 L830.5,867.0 L834.0,866.9 L837.4,866.7 L840.8,867.3 L844.1,867.4 L847.5,867.1 L850.8,866.8 L854.1,867.4 L857.3,866.7 L860.5,866.7 L863.7,867.2 L866.8,867.4 L869.9,867.1 L873.0,866.6 L875.9,867.5 L878.9,866.7 L881.7,866.9 L884.6,867.5 L887.3,867.3 L890.0,867.3 L892.6,866.6 L895.1,867.4 L897.6,866.9 L900.0,866.5 L904.2,867.3 L908.2,867.4 L912.0,866.5 L915.7,866.9 L919.2,867.3 L922.6,866.7 L925.8,866.6 L929.0,867.1 L932.0,866.7 L935.0,867.2 L937.8,867.1 L940.6,867.0 L943.3,866.8 L946.0,866.3 L948.6,866.7 L951.2,866.6 L953.7,866.4 L956.3,866.5 L958.8,866.2 L961.4,866.0 L963.9,866.7 L966.5,866.1 L969.2,865.8 L971.8,866.6 L974.6,866.1 L977.4,866.3 L980.3,865.9 L983.3,865.7 L986.4,865.9 L989.6,866.4 L992.9,865.8 L996.4,866.4 L1000.0,865.8 L1002.6,866.4 L1005.4,865.7 L1008.2,866.0 L1011.1,865.6 L1014.1,865.7 L1017.2,866.1 L1020.3,865.9 L1023.5,866.1 L1026.8,865.8 L1030.1,865.9 L1033.5,865.9 L1036.9,866.5 L1040.4,865.7 L1043.9,866.1 L1047.4,866.6 L1051.0,866.3 L1054.5,866.0 L1058.1,866.8 L1061.7,865.9 L1065.3,866.0 L1068.9,865.9 L1072.4,866.3 L1076.0,866.8 L1079.5,866.2 L1083.0,866.3 L1086.5,866.8 L1090.0,866.1 L1093.4,866.1 L1096.7,866.8 L1100.0,866.2 L1103.3,866.7 L1106.4,866.3 L1109.6,866.8 L1112.6,867.1 L1115.6,866.7 L1118.4,866.6 L1121.2,866.9 L1123.9,867.0 L1126.5,866.4 L1129.0,866.6 L1131.4,866.8 L1133.6,866.9 L1135.8,866.7 L1137.8,867.1 L1139.7,866.7 L1141.4,867.4 L1143.0,867.0" stroke="#757575" stroke-width="9" stroke-opacity="0.35"/>
<path d="M125.0,788.8 L127.6,789.5 L130.0,791.0 L133.0,793.6 L136.3,795.8 L138.9,797.6 L141.6,799.6 L144.4,801.3 L147.2,803.5 L149.9,804.8 L152.6,806.0 L155.4,807.2 L158.1,808.0 L161.7,809.8 L165.4,811.6 L169.0,813.4 L172.6,814.6 L176.3,816.9 L179.9,817.9 L183.5,819.3 L187.2,820.5 L190.8,820.7 L194.4,822.1 L198.1,822.7 L201.7,822.5 L205.3,822.9 L209.0,824.1 L212.6,824.7 L216.2,825.0 L219.9,825.0 L223.5,825.5 L227.1,825.4 L230.8,825.9 L234.4,826.4 L238.0,827.1 L241.7,826.9 L245.3,828.0 L248.9,827.4 L252.6,828.5 L256.2,828.0 L259.8,828.9 L263.4,829.2 L267.1,829.7 L271.2,829.5 L275.3,830.0 L279.0,829.9 L282.4,830.7 L286.3,830.4 L289.0,831.4 L292.2,831.4 L295.7,831.1 L299.3,832.4 L302.7,832.2 L306.0,832.6 L309.2,833.5 L312.5,834.0 L315.7,835.1 L319.0,836.4 L322.3,837.6 L325.6,838.2 L328.8,839.4 L332.1,840.4 L335.4,841.3 L338.7,842.0 L341.9,842.9 L345.2,843.8 L348.4,845.1 L351.7,845.7 L355.0,847.1 L358.2,847.5 L361.5,848.6 L364.7,849.3 L368.0,850.0 L371.3,850.2 L374.6,850.8 L377.8,851.8 L381.1,851.8 L384.4,852.8 L387.7,853.5 L390.9,853.4 L394.2,854.5 L397.4,854.5 L400.7,855.2 L404.0,855.2 L407.5,855.7 L410.9,855.9 L414.1,855.7 L417.1,856.2 L421.3,856.5 L425.0,856.5 L429.0,857.1 L431.5,857.8 L433.6,858.3 L437.1,858.9 L443.6,858.8 L445.7,859.5 L448.0,859.6 L450.5,860.1 L453.2,859.3 L456.1,859.6 L459.2,860.6 L462.4,860.1 L465.6,860.6 L469.0,860.7 L472.4,860.6 L475.8,860.8 L479.2,861.1 L482.6,861.6 L485.9,861.3 L489.1,861.6 L492.2,861.2 L495.2,861.6 L498.0,861.5 L501.5,861.6 L505.0,861.6 L508.5,860.7 L511.9,861.4 L515.3,860.8 L518.6,860.2 L521.8,860.2 L525.0,859.6 L528.1,859.4 L531.0,859.8 L533.9,859.5 L536.6,859.5 L539.2,858.7 L541.6,858.6 L545.8,858.9 L549.1,859.3 L551.9,859.8 L554.4,859.7 L557.0,860.6 L559.9,860.8 L563.4,860.9 L566.1,861.6 L568.7,861.1 L571.4,861.9 L574.1,861.8 L577.0,861.9 L580.1,862.6 L583.5,862.9 L587.2,863.2 L591.4,863.2 L596.0,863.9 L598.4,863.9 L601.0,863.3 L603.7,863.3 L606.5,864.3 L609.5,863.8 L612.6,863.6 L615.7,863.7 L618.9,864.3 L622.2,863.9 L625.5,864.1 L628.9,864.5 L632.3,864.2 L635.7,864.6 L639.0,865.0 L642.4,864.9 L645.7,864.8 L649.0,864.8 L652.2,864.6 L655.4,865.0 L658.4,865.1 L661.4,865.1 L664.6,865.1 L667.4,865.4 L669.9,865.0 L672.2,865.6 L674.3,865.9 L676.3,865.1 L678.3,865.4 L680.3,866.3 L682.4,865.5 L684.7,866.3 L687.3,866.1 L690.2,865.7 L693.4,866.4 L697.2,865.8 L701.4,866.8 L706.3,866.3 L711.8,867.0 L718.0,867.0 L720.0,866.3 L722.2,866.5 L724.4,866.3 L726.7,866.9 L729.0,866.3 L731.5,866.3 L734.0,866.3 L736.6,867.1 L739.3,866.5 L742.0,866.6 L744.8,866.7 L747.7,866.8 L750.6,866.7 L753.6,867.3 L756.6,866.7 L759.7,866.8 L762.8,867.2 L766.0,866.6 L769.2,866.5 L772.4,867.2 L775.7,866.7 L779.0,867.3 L782.3,867.2 L785.7,866.8 L789.1,866.8 L792.5,866.5 L795.9,867.3 L799.4,866.9 L802.8,866.8 L806.3,866.6 L809.8,866.7 L813.2,867.3 L816.7,866.6 L820.2,867.0 L823.6,867.1 L827.1,867.0 L830.5,867.0 L834.0,866.9 L837.4,866.7 L840.8,867.3 L844.1,867.4 L847.5,867.1 L850.8,866.8 L854.1,867.4 L857.3,866.7 L860.5,866.7 L863.7,867.2 L866.8,867.4 L869.9,867.1 L873.0,866.6 L875.9,867.5 L878.9,866.7 L881.7,866.9 L884.6,867.5 L887.3,867.3 L890.0,867.3 L892.6,866.6 L895.1,867.4 L897.6,866.9 L900.0,866.5 L904.2,867.3 L908.2,867.4 L912.0,866.5 L915.7,866.9 L919.2,867.3 L922.6,866.7 L925.8,866.6 L929.0,867.1 L932.0,866.7 L935.0,867.2 L937.8,867.1 L940.6,867.0 L943.3,866.8 L946.0,866.3 L948.6,866.7 L951.2,866.6 L953.7,866.4 L956.3,866.5 L958.8,866.2 L961.4,866.0 L963.9,866.7 L966.5,866.1 L969.2,865.8 L971.8,866.6 L974.6,866.1 L977.4,866.3 L980.3,865.9 L983.3,865.7 L986.4,865.9 L989.6,866.4 L992.9,865.8 L996.4,866.4 L1000.0,865.8 L1002.6,866.4 L1005.4,865.7 L1008.2,866.0 L1011.1,865.6 L1014.1,865.7 L1017.2,866.1 L1020.3,865.9 L1023.5,866.1 L1026.8,865.8 L1030.1,865.9 L1033.5,865.9 L1036.9,866.5 L1040.4,865.7 L1043.9,866.1 L1047.4,866.6 L1051.0,866.3 L1054.5,866.0 L1058.1,866.8 L1061.7,865.9 L1065.3,866.0 L1068.9,865.9 L1072.4,866.3 L1076.0,866.8 L1079.5,866.2 L1083.0,866.3 L1086.5,866.8 L1090.0,866.1 L1093.4,866.1 L1096.7,866.8 L1100.0,866.2 L1103.3,866.7 L1106.4,866.3 L1109.6,866.8 L1112.6,867.1 L1115.6,866.7 L1118.4,866.6 L1121.2,866.9 L1123.9,867.0 L1126.5,866.4 L1129.0,866.6 L1131.4,866.8 L1133.6,866.9 L1135.8,866.7 L1137.8,867.1 L1139.7,866.7 L1141.4,867.4 L1143.0,867.0" stroke="#757575" stroke-width="6"/>
</g>
<line x1="124" y1="45.8" x2="1143.5" y2="45.8" stroke="#111" stroke-width="3.2"/>
<line x1="1142" y1="44.2" x2="1142" y2="921.5" stroke="#111" stroke-width="3.2"/>
<line x1="126" y1="44.2" x2="126" y2="921.7" stroke="#353535" stroke-width="4"/>
<line x1="124" y1="919.8" x2="1143.5" y2="919.8" stroke="#353535" stroke-width="3.8"/>
<line x1="126.0" y1="919" x2="126.0" y2="937.2" stroke="#353535" stroke-width="3.8"/>
<line x1="189.5" y1="919" x2="189.5" y2="929" stroke="#353535" stroke-width="3.8"/>
<line x1="253.0" y1="919" x2="253.0" y2="937.2" stroke="#353535" stroke-width="3.8"/>
<line x1="316.5" y1="919" x2="316.5" y2="929" stroke="#353535" stroke-width="3.8"/>
<line x1="380.0" y1="919" x2="380.0" y2="937.2" stroke="#353535" stroke-width="3.8"/>
<line x1="443.5" y1="919" x2="443.5" y2="929" stroke="#353535" stroke-width="3.8"/>
<line x1="507.0" y1="919" x2="507.0" y2="937.2" stroke="#353535" stroke-width="3.8"/>
<line x1="570.5" y1="919" x2="570.5" y2="929" stroke="#353535" stroke-width="3.8"/>
<line x1="634.0" y1="919" x2="634.0" y2="937.2" stroke="#353535" stroke-width="3.8"/>
<line x1="697.5" y1="919" x2="697.5" y2="929" stroke="#353535" stroke-width="3.8"/>
<line x1="761.0" y1="919" x2="761.0" y2="937.2" stroke="#353535" stroke-width="3.8"/>
<line x1="824.5" y1="919" x2="824.5" y2="929" stroke="#353535" stroke-width="3.8"/>
<line x1="888.0" y1="919" x2="888.0" y2="937.2" stroke="#353535" stroke-width="3.8"/>
<line x1="951.5" y1="919" x2="951.5" y2="929" stroke="#353535" stroke-width="3.8"/>
<line x1="1015.0" y1="919" x2="1015.0" y2="937.2" stroke="#353535" stroke-width="3.8"/>
<line x1="1078.5" y1="919" x2="1078.5" y2="929" stroke="#353535" stroke-width="3.8"/>
<line x1="1142.0" y1="919" x2="1142.0" y2="937.2" stroke="#353535" stroke-width="3.8"/>
<text x="126.0" y="982" font-family="Liberation Sans, sans-serif" stroke="#fff" stroke-width="0.7" font-size="46" text-anchor="middle" fill="#000">10</text>
<text x="253.0" y="982" font-family="Liberation Sans, sans-serif" stroke="#fff" stroke-width="0.7" font-size="46" text-anchor="middle" fill="#000">20</text>
<text x="380.0" y="982" font-family="Liberation Sans, sans-serif" stroke="#fff" stroke-width="0.7" font-size="46" text-anchor="middle" fill="#000">30</text>
<text x="507.0" y="982" font-family="Liberation Sans, sans-serif" stroke="#fff" stroke-width="0.7" font-size="46" text-anchor="middle" fill="#000">40</text>
<text x="634.0" y="982" font-family="Liberation Sans, sans-serif" stroke="#fff" stroke-width="0.7" font-size="46" text-anchor="middle" fill="#000">50</text>
<text x="761.0" y="982" font-family="Liberation Sans, sans-serif" stroke="#fff" stroke-width="0.7" font-size="46" text-anchor="middle" fill="#000">60</text>
<text x="888.0" y="982" font-family="Liberation Sans, sans-serif" stroke="#fff" stroke-width="0.7" font-size="46" text-anchor="middle" fill="#000">70</text>
<text x="1015.0" y="982" font-family="Liberation Sans, sans-serif" stroke="#fff" stroke-width="0.7" font-size="46" text-anchor="middle" fill="#000">80</text>
<text x="1142.0" y="982" font-family="Liberation Sans, sans-serif" stroke="#fff" stroke-width="0.7" font-size="46" text-anchor="middle" fill="#000">90</text>
<text x="634.4" y="1068" font-family="Liberation Sans, sans-serif" stroke="#fff" stroke-width="0.7" font-size="52.5" text-anchor="middle" fill="#000">Angle [°2θ]</text>
<text transform="translate(69.8,483.2) rotate(-90)" x="0" y="0" font-family="Liberation Sans, sans-serif" stroke="#fff" stroke-width="0.7" font-size="53.5" text-anchor="middle" fill="#000">Intensity [a.u.]</text>
<line x1="556" y1="75.1" x2="612" y2="75.1" stroke="#000000" stroke-width="5.5"/>
<text transform="translate(621.5,90.4) scale(1.02,1)" x="0" y="0" font-family="Liberation Sans, sans-serif" stroke="#fff" stroke-width="0.7" font-size="45.3" fill="#000">Fe</text>
<line x1="851" y1="75.1" x2="907" y2="75.1" stroke="#1170c0" stroke-width="5.5"/>
<text transform="translate(914.5,90.4) scale(1.02,1)" x="0" y="0" font-family="Liberation Sans, sans-serif" stroke="#fff" stroke-width="0.7" font-size="45.3" fill="#000">FeCo (3:1)</text>
<line x1="556" y1="130.3" x2="612" y2="130.3" stroke="#b0282c" stroke-width="5.5"/>
<text transform="translate(621.5,145.6) scale(1.02,1)" x="0" y="0" font-family="Liberation Sans, sans-serif" stroke="#fff" stroke-width="0.7" font-size="45.3" fill="#000">FeCo (5:3)</text>
<line x1="851" y1="130.3" x2="907" y2="130.3" stroke="#7a8c4c" stroke-width="5.5"/>
<text transform="translate(914.5,145.6) scale(1.02,1)" x="0" y="0" font-family="Liberation Sans, sans-serif" stroke="#fff" stroke-width="0.7" font-size="45.3" fill="#000">FeCo (1:1)</text>
<line x1="556" y1="185.7" x2="612" y2="185.7" stroke="#ecb80a" stroke-width="5.5"/>
<text transform="translate(621.5,201) scale(1.02,1)" x="0" y="0" font-family="Liberation Sans, sans-serif" stroke="#fff" stroke-width="0.7" font-size="45.3" fill="#000">FeCo (1:3)</text>
<line x1="851" y1="185.7" x2="907" y2="185.7" stroke="#ff7d04" stroke-width="5.5"/>
<text transform="translate(914.5,201) scale(1.02,1)" x="0" y="0" font-family="Liberation Sans, sans-serif" stroke="#fff" stroke-width="0.7" font-size="45.3" fill="#000">Co</text>
<line x1="556" y1="241.0" x2="612" y2="241.0" stroke="#757575" stroke-width="5.5"/>
<text transform="translate(621.5,256.3) scale(1.02,1)" x="0" y="0" font-family="Liberation Sans, sans-serif" stroke="#fff" stroke-width="0.7" font-size="45.3" fill="#000">BP</text>
<text x="683" y="272.5" font-family="Liberation Sans, sans-serif" font-size="25" fill="#000">ox</text>
<rect x="188.5" y="786.5" width="414" height="109" fill="none" stroke="#000" stroke-width="4.6"/>
<line x1="605" y1="784.5" x2="1192" y2="357" stroke="#5a5a5a" stroke-width="1.5"/>
<line x1="605" y1="893.5" x2="1192" y2="795" stroke="#5a5a5a" stroke-width="1.5"/>
<g clip-path="url(#ic)"><polygon points="1192.0,398.0 1195.0,400.0 1195.5,401.4 1196.0,403.2 1196.5,405.3 1197.0,407.6 1197.5,410.0 1198.0,412.3 1198.6,414.5 1199.2,416.6 1199.7,418.7 1200.3,420.9 1200.9,423.0 1201.6,425.1 1202.2,427.1 1203.0,429.0 1204.0,431.0 1205.0,432.9 1206.1,434.7 1207.2,436.5 1208.4,438.2 1209.6,440.0 1210.8,441.8 1211.9,443.7 1213.1,445.5 1214.4,447.4 1215.8,449.1 1217.3,450.9 1218.8,452.4 1220.4,453.8 1222.1,455.2 1223.9,456.6 1225.7,457.9 1227.5,459.3 1229.3,460.7 1231.1,462.0 1232.9,463.3 1234.7,464.6 1236.5,465.8 1238.2,467.2 1239.8,468.8 1241.3,470.5 1242.3,472.1 1243.3,473.8 1244.2,475.6 1245.0,477.6 1245.8,479.6 1246.6,481.5 1247.4,483.4 1248.1,485.2 1248.9,486.9 1250.1,489.1 1251.3,490.9 1252.4,492.7 1253.5,494.5 1254.5,496.5 1255.5,498.9 1256.0,500.5 1256.5,502.2 1256.9,504.0 1257.3,505.9 1257.7,507.9 1258.0,509.9 1258.4,512.0 1258.8,514.1 1259.3,516.3 1259.8,518.5 1260.3,520.4 1260.8,522.5 1261.4,524.7 1262.0,526.9 1262.6,529.2 1263.2,531.5 1263.8,533.8 1264.4,536.0 1265.0,538.1 1265.5,540.1 1266.0,541.9 1266.4,543.6 1267.1,546.5 1267.7,549.1 1268.1,551.4 1268.5,553.3 1268.8,554.8 1269.0,556.0 1261.0,556.0 1260.9,554.6 1260.6,552.4 1259.8,549.1 1259.2,547.5 1258.5,545.6 1257.7,543.5 1256.7,541.3 1255.8,539.0 1254.9,536.8 1254.0,534.7 1253.3,532.7 1252.4,530.3 1251.7,528.1 1251.0,526.0 1250.3,523.9 1249.6,521.8 1248.9,519.6 1248.3,517.6 1247.8,515.6 1247.2,513.6 1246.7,511.6 1246.1,509.6 1245.4,507.5 1244.5,505.5 1243.6,503.7 1242.7,501.8 1241.7,499.9 1240.7,498.0 1239.6,496.2 1238.4,494.4 1237.1,492.8 1235.8,491.3 1234.1,489.9 1232.3,488.8 1230.4,487.8 1228.4,486.9 1226.4,485.9 1224.5,484.9 1222.7,483.6 1221.2,482.3 1219.8,480.9 1218.4,479.3 1217.0,477.7 1215.6,476.1 1214.3,474.5 1213.0,473.0 1211.8,471.6 1210.2,469.9 1208.7,468.5 1207.3,467.1 1205.8,465.6 1204.4,463.9 1203.0,461.8 1202.1,460.2 1201.2,458.4 1200.2,456.4 1199.2,454.2 1198.3,452.1 1197.4,449.9 1196.5,448.0 1195.7,446.2 1195.0,444.7 1194.4,443.6 1192.0,444.0" fill="#7b7b7b"/>
<polygon points="1256.2,536.2 1256.5,537.2 1257.0,538.7 1257.5,540.5 1258.1,542.4 1258.6,544.3 1259.2,546.1 1259.6,547.6 1260.0,549.1 1260.4,550.7 1260.8,552.3 1261.2,553.9 1261.7,555.5 1262.2,557.1 1262.7,558.8 1263.2,560.4 1263.7,562.0 1264.2,563.5 1264.7,565.1 1265.2,566.6 1265.6,568.1 1266.0,569.5 1266.4,571.0 1266.7,572.5 1267.0,574.0 1267.4,575.6 1267.7,577.3 1268.1,578.9 1268.5,580.4 1268.9,582.0 1269.3,583.5 1269.7,585.1 1270.0,586.6 1270.4,588.1 1270.8,589.5 1271.1,590.9 1271.4,592.4 1271.7,593.7 1271.9,595.1 1272.2,596.7 1272.6,598.6 1273.2,601.0 1273.6,602.2 1273.9,603.4 1274.3,604.7 1274.7,606.1 1275.1,607.5 1275.5,609.0 1276.0,610.5 1276.5,612.1 1276.9,613.7 1277.4,615.3 1277.8,616.9 1278.3,618.4 1278.7,620.0 1279.1,621.5 1279.6,623.0 1279.9,624.4 1280.3,625.9 1280.7,627.3 1281.1,628.8 1281.5,630.3 1281.9,631.7 1282.2,633.2 1282.6,634.7 1283.0,636.2 1283.5,637.7 1283.9,639.2 1284.4,640.7 1284.8,642.3 1285.3,643.8 1285.9,645.3 1286.4,646.8 1286.9,648.3 1287.5,649.8 1288.1,651.3 1288.6,652.8 1289.2,654.3 1289.9,655.9 1290.5,657.4 1291.1,658.9 1291.8,660.4 1292.5,661.9 1293.2,663.4 1293.9,664.9 1294.6,666.5 1295.4,668.0 1296.1,669.4 1296.9,670.8 1297.7,672.2 1298.5,673.7 1299.3,675.2 1300.2,676.6 1301.1,678.1 1301.9,679.5 1302.8,681.0 1303.6,682.4 1304.5,683.7 1305.3,685.0 1306.1,686.3 1306.8,687.5 1307.5,688.6 1308.2,689.6 1308.7,690.5 1309.8,692.4 1310.6,693.7 1311.3,694.9 1312.0,696.0 1312.9,697.3 1314.1,698.7 1315.4,700.3 1316.3,701.2 1317.2,702.2 1318.2,703.3 1319.3,704.4 1320.4,705.6 1321.6,706.8 1322.8,708.1 1324.1,709.3 1325.4,710.6 1326.8,711.8 1328.2,713.1 1329.6,714.3 1331.1,715.4 1332.6,716.5 1334.0,717.5 1335.4,718.4 1336.9,719.3 1338.4,720.2 1339.9,721.1 1341.5,722.0 1343.0,722.8 1344.6,723.6 1346.2,724.3 1347.7,725.0 1349.3,725.6 1350.8,726.2 1352.3,726.7 1353.7,727.1 1355.3,727.5 1357.7,728.0 1360.2,728.2 1362.6,728.1 1364.8,727.7 1366.7,727.2 1368.4,726.6 1369.9,726.0 1371.5,725.4 1373.2,724.6 1375.0,723.7 1376.7,722.6 1378.2,721.6 1379.7,720.6 1381.0,719.7 1382.2,718.9 1383.2,718.2 1384.2,717.7 1386.0,716.8 1387.6,715.9 1388.8,715.3 1389.5,715.0 1389.3,714.9 1388.6,714.7 1387.8,714.3 1387.8,714.3 1388.3,715.1 1389.0,716.5 1390.0,718.4 1391.2,720.5 1392.7,722.6 1393.7,723.8 1394.6,724.9 1395.6,726.0 1396.6,727.2 1397.6,728.4 1398.7,729.6 1399.8,730.8 1400.9,732.1 1402.1,733.3 1403.3,734.6 1404.6,735.8 1405.9,737.0 1407.2,738.1 1408.5,739.2 1409.9,740.3 1411.3,741.3 1412.7,742.4 1414.1,743.4 1415.5,744.4 1416.9,745.4 1418.2,746.3 1419.5,747.2 1420.7,748.0 1421.8,748.8 1422.8,749.5 1424.7,750.8 1426.4,751.8 1427.8,752.7 1429.1,753.4 1430.2,754.0 1431.5,754.7 1433.2,755.7 1435.1,756.7 1436.8,757.6 1438.2,758.3 1439.3,758.8 1444.7,748.2 1443.7,747.6 1442.3,746.9 1440.6,746.0 1438.9,745.1 1437.3,744.3 1436.1,743.6 1435.0,742.9 1433.9,742.3 1432.7,741.6 1431.4,740.7 1429.6,739.5 1428.6,738.9 1427.5,738.1 1426.3,737.3 1425.1,736.4 1423.8,735.5 1422.5,734.6 1421.1,733.7 1419.8,732.7 1418.5,731.7 1417.2,730.8 1416.0,729.8 1414.9,728.9 1413.9,728.0 1412.8,727.0 1411.8,726.0 1410.7,725.0 1409.7,723.9 1408.6,722.8 1407.6,721.6 1406.7,720.5 1405.7,719.4 1404.8,718.3 1403.9,717.2 1403.1,716.2 1402.5,715.4 1401.5,714.0 1400.8,712.6 1400.0,711.1 1399.2,709.3 1398.0,707.3 1396.3,705.2 1393.4,703.3 1389.9,702.4 1386.7,702.7 1384.2,703.5 1382.1,704.4 1380.2,705.3 1378.4,706.1 1376.9,706.9 1375.3,707.8 1373.8,708.8 1372.3,709.7 1371.0,710.6 1369.7,711.4 1368.5,712.1 1367.5,712.6 1366.5,713.0 1365.2,713.5 1363.9,713.9 1362.9,714.2 1362.1,714.4 1361.4,714.5 1360.6,714.5 1359.7,714.4 1358.3,714.1 1357.6,713.9 1356.6,713.5 1355.6,713.1 1354.4,712.7 1353.1,712.1 1351.8,711.6 1350.5,711.0 1349.1,710.4 1347.7,709.7 1346.3,709.1 1345.0,708.4 1343.7,707.6 1342.4,706.9 1341.2,706.2 1340.0,705.5 1338.9,704.7 1337.7,703.9 1336.5,703.0 1335.3,702.0 1334.1,701.0 1332.9,699.9 1331.7,698.8 1330.6,697.7 1329.4,696.6 1328.4,695.6 1327.3,694.5 1326.3,693.5 1325.4,692.6 1324.6,691.7 1323.2,690.4 1322.4,689.6 1322.0,689.0 1321.5,688.4 1320.9,687.4 1320.0,686.0 1318.7,684.1 1318.0,683.1 1317.3,682.1 1316.5,681.0 1315.7,679.9 1314.9,678.7 1314.0,677.4 1313.1,676.2 1312.2,674.8 1311.3,673.5 1310.4,672.2 1309.5,670.8 1308.6,669.5 1307.7,668.1 1306.9,666.8 1306.1,665.5 1305.3,664.2 1304.6,663.0 1303.8,661.6 1303.1,660.2 1302.3,658.9 1301.6,657.5 1300.9,656.1 1300.2,654.7 1299.5,653.3 1298.8,651.9 1298.2,650.5 1297.5,649.1 1296.9,647.7 1296.3,646.3 1295.7,644.9 1295.1,643.5 1294.5,642.1 1294.0,640.7 1293.5,639.3 1293.0,637.9 1292.5,636.5 1292.1,635.1 1291.6,633.7 1291.2,632.3 1290.7,630.8 1290.3,629.4 1289.9,627.9 1289.4,626.5 1289.0,625.0 1288.6,623.5 1288.1,622.1 1287.6,620.6 1287.2,619.1 1286.7,617.6 1286.2,616.0 1285.7,614.5 1285.2,612.9 1284.7,611.3 1284.2,609.8 1283.7,608.2 1283.2,606.7 1282.8,605.2 1282.4,603.8 1282.0,602.5 1281.6,601.2 1281.3,600.0 1281.0,599.0 1280.4,596.7 1280.0,595.1 1279.8,593.7 1279.5,592.4 1279.3,590.9 1278.9,589.1 1278.6,587.6 1278.2,586.1 1277.8,584.6 1277.4,583.1 1277.0,581.5 1276.6,580.0 1276.2,578.5 1275.9,577.1 1275.5,575.5 1275.2,573.9 1274.9,572.4 1274.5,570.8 1274.2,569.2 1273.8,567.6 1273.4,565.9 1272.9,564.3 1272.4,562.6 1271.8,561.0 1271.3,559.4 1270.8,557.9 1270.3,556.4 1269.8,554.9 1269.4,553.3 1269.0,551.8 1268.5,550.2 1268.1,548.6 1267.7,547.0 1267.3,545.5 1266.8,543.9 1266.3,542.0 1265.7,540.1 1265.1,538.2 1264.6,536.4 1264.2,534.9 1263.8,533.8" fill="#7b7b7b"/></g>
<rect x="1192.3" y="357.3" width="245.2" height="437.7" fill="none" stroke="#151515" stroke-width="3.2"/>
<line x1="1192.5" y1="795" x2="1192.5" y2="804" stroke="#222" stroke-width="3.5"/>
<line x1="1227.4" y1="795" x2="1227.4" y2="811" stroke="#222" stroke-width="3.5"/>
<line x1="1262.4" y1="795" x2="1262.4" y2="804" stroke="#222" stroke-width="3.5"/>
<line x1="1297.3" y1="795" x2="1297.3" y2="811" stroke="#222" stroke-width="3.5"/>
<line x1="1332.2" y1="795" x2="1332.2" y2="804" stroke="#222" stroke-width="3.5"/>
<line x1="1367.2" y1="795" x2="1367.2" y2="811" stroke="#222" stroke-width="3.5"/>
<line x1="1402.1" y1="795" x2="1402.1" y2="804" stroke="#222" stroke-width="3.5"/>
<line x1="1437.0" y1="795" x2="1437.0" y2="811" stroke="#222" stroke-width="3.5"/>
<text x="1226.6" y="857" font-family="Liberation Sans, sans-serif" stroke="#fff" stroke-width="0.7" font-size="47" text-anchor="middle" fill="#000">20</text>
<text x="1296.5" y="857" font-family="Liberation Sans, sans-serif" stroke="#fff" stroke-width="0.7" font-size="47" text-anchor="middle" fill="#000">30</text>
<text x="1366.4" y="857" font-family="Liberation Sans, sans-serif" stroke="#fff" stroke-width="0.7" font-size="47" text-anchor="middle" fill="#000">40</text>
<text x="1436.2" y="857" font-family="Liberation Sans, sans-serif" stroke="#fff" stroke-width="0.7" font-size="47" text-anchor="middle" fill="#000">50</text>
<text transform="translate(1313,916.5) scale(0.985,1)" x="0" y="0" font-family="Liberation Sans, sans-serif" stroke="#fff" stroke-width="0.7" font-size="48" text-anchor="middle" fill="#000">Angle [°2θ]</text>
<text x="1231" y="445" font-family="Liberation Sans, sans-serif" stroke="#fff" stroke-width="0.7" font-size="46.5" fill="#000">(002)</text>
<text transform="translate(1323.5,672.3) scale(1.025,1)" x="0" y="0" font-family="Liberation Sans, sans-serif" stroke="#fff" stroke-width="0.7" font-size="45.5" fill="#000">(100)</text>
</svg>
</body></html>
